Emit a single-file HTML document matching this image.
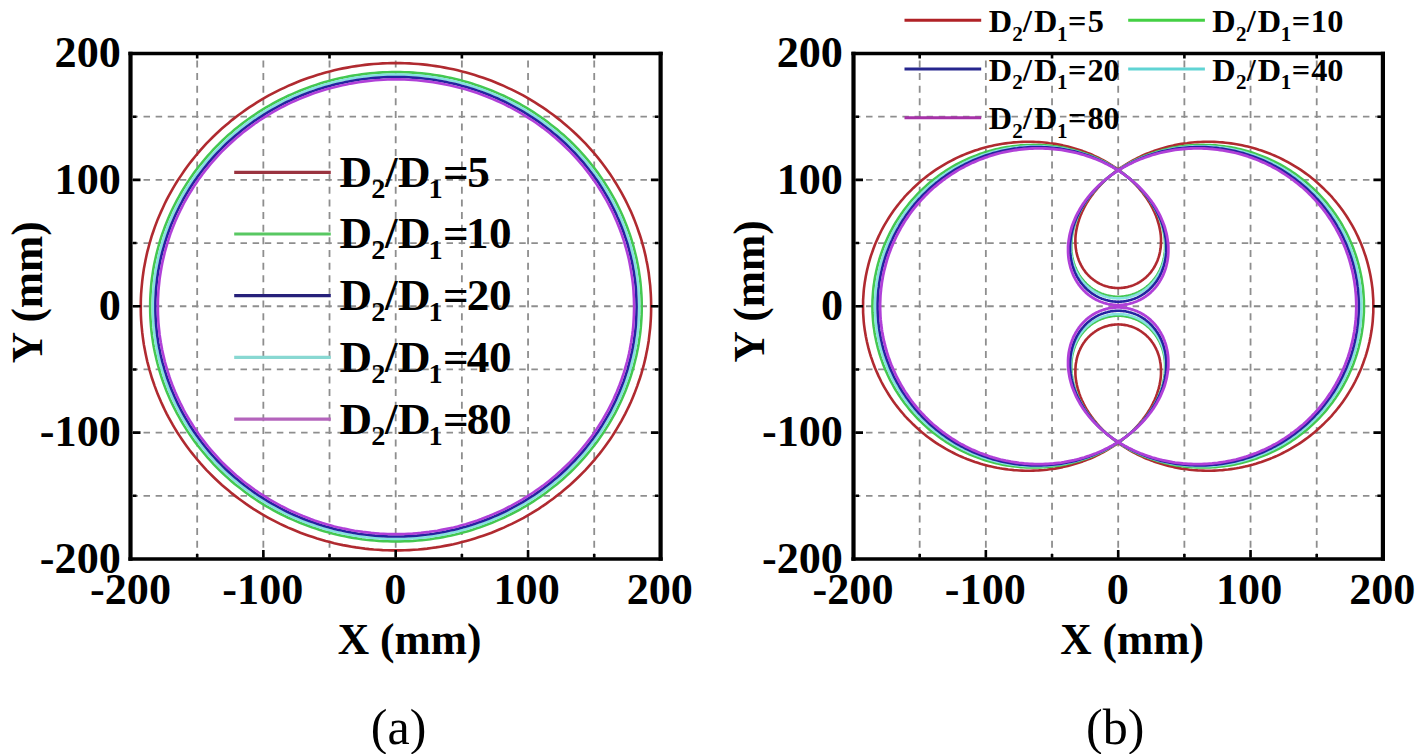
<!DOCTYPE html>
<html><head><meta charset="utf-8"><style>
html,body{margin:0;padding:0;background:#fff;}
body{width:1416px;height:754px;overflow:hidden;font-family:"Liberation Serif",serif;}
svg{display:block;}
</style></head><body>
<svg width="1416" height="754" viewBox="0 0 1416 754">
<rect width="1416" height="754" fill="#fff"/>
<g stroke="#8e8e8e" stroke-width="1.8" stroke-dasharray="7 5.64" stroke-dashoffset="5.74" fill="none"><line x1="197.18" y1="53.5" x2="197.18" y2="559"/><line x1="263.35" y1="53.5" x2="263.35" y2="559"/><line x1="329.52" y1="53.5" x2="329.52" y2="559"/><line x1="395.7" y1="53.5" x2="395.7" y2="559"/><line x1="461.88" y1="53.5" x2="461.88" y2="559"/><line x1="528.05" y1="53.5" x2="528.05" y2="559"/><line x1="594.22" y1="53.5" x2="594.22" y2="559"/></g>
<g stroke="#8e8e8e" stroke-width="1.8" stroke-dasharray="6.5 5.62" stroke-dashoffset="-0.4" fill="none"><line x1="131" y1="495.81" x2="660.4" y2="495.81"/><line x1="131" y1="432.62" x2="660.4" y2="432.62"/><line x1="131" y1="369.44" x2="660.4" y2="369.44"/><line x1="131" y1="306.25" x2="660.4" y2="306.25"/><line x1="131" y1="243.06" x2="660.4" y2="243.06"/><line x1="131" y1="179.88" x2="660.4" y2="179.88"/><line x1="131" y1="116.69" x2="660.4" y2="116.69"/></g>
<path d="M651.1 306.8 651.1 302.5 651.0 298.3 650.8 294.0 650.5 289.8 650.2 285.5 649.7 281.3 649.2 277.1 648.7 272.8 648.0 268.6 647.3 264.4 646.4 260.3 645.6 256.1 644.6 251.9 643.6 247.8 642.4 243.7 641.3 239.6 640.0 235.5 638.6 231.5 637.2 227.4 635.7 223.4 634.2 219.4 632.6 215.5 630.9 211.6 629.1 207.7 627.2 203.8 625.3 199.9 623.3 196.1 621.3 192.4 619.1 188.6 616.9 184.9 614.7 181.3 612.4 177.6 610.0 174.1 607.5 170.5 605.0 167.0 602.4 163.5 599.8 160.1 597.0 156.7 594.3 153.4 591.4 150.1 588.5 146.9 585.6 143.7 582.6 140.6 579.5 137.5 576.4 134.5 573.2 131.5 570.0 128.6 566.7 125.7 563.4 122.9 560.0 120.1 556.5 117.4 553.1 114.8 549.5 112.2 546.0 109.6 542.3 107.2 538.7 104.8 534.9 102.4 531.2 100.1 527.4 97.9 523.6 95.7 519.7 93.7 515.8 91.6 511.8 89.7 507.8 87.8 503.8 85.9 499.8 84.2 495.7 82.5 491.6 80.8 487.4 79.3 483.2 77.8 479.0 76.4 474.8 75.0 470.6 73.8 466.3 72.5 462.0 71.4 457.7 70.3 453.4 69.3 449.0 68.4 444.7 67.6 440.3 66.8 435.9 66.1 431.5 65.5 427.1 64.9 422.6 64.4 418.2 64.0 413.8 63.7 409.3 63.4 404.9 63.3 400.4 63.1 396.0 63.1 391.5 63.1 387.1 63.3 382.6 63.4 378.2 63.7 373.7 64.0 369.3 64.4 364.9 64.9 360.5 65.5 356.0 66.1 351.7 66.8 347.3 67.6 342.9 68.4 338.6 69.3 334.2 70.3 329.9 71.4 325.6 72.5 321.4 73.8 317.1 75.0 312.9 76.4 308.7 77.8 304.5 79.3 300.4 80.8 296.3 82.5 292.2 84.2 288.1 85.9 284.1 87.8 280.1 89.7 276.2 91.6 272.3 93.7 268.4 95.7 264.5 97.9 260.7 100.1 257.0 102.4 253.3 104.8 249.6 107.2 246.0 109.6 242.4 112.2 238.9 114.8 235.4 117.4 231.9 120.1 228.6 122.9 225.2 125.7 221.9 128.6 218.7 131.5 215.5 134.5 212.4 137.5 209.3 140.6 206.3 143.7 203.4 146.9 200.5 150.1 197.7 153.4 194.9 156.7 192.2 160.1 189.5 163.5 186.9 167.0 184.4 170.5 182.0 174.1 179.6 177.6 177.2 181.3 175.0 184.9 172.8 188.6 170.7 192.4 168.6 196.1 166.6 199.9 164.7 203.8 162.9 207.7 161.1 211.6 159.4 215.5 157.7 219.4 156.2 223.4 154.7 227.4 153.3 231.5 151.9 235.5 150.7 239.6 149.5 243.7 148.4 247.8 147.3 251.9 146.4 256.1 145.5 260.3 144.7 264.4 143.9 268.6 143.3 272.8 142.7 277.1 142.2 281.3 141.8 285.5 141.4 289.8 141.1 294.0 140.9 298.3 140.8 302.5 140.8 306.8 140.8 311.0 140.9 315.3 141.1 319.5 141.4 323.8 141.8 328.0 142.2 332.2 142.7 336.4 143.3 340.7 143.9 344.9 144.7 349.1 145.5 353.2 146.4 357.4 147.3 361.6 148.4 365.7 149.5 369.8 150.7 373.9 151.9 378.0 153.3 382.0 154.7 386.1 156.2 390.1 157.7 394.1 159.4 398.0 161.1 402.0 162.9 405.9 164.7 409.7 166.6 413.6 168.6 417.4 170.7 421.1 172.8 424.9 175.0 428.6 177.2 432.2 179.6 435.9 182.0 439.5 184.4 443.0 186.9 446.5 189.5 450.0 192.2 453.4 194.9 456.8 197.7 460.1 200.5 463.4 203.4 466.6 206.3 469.8 209.3 472.9 212.4 476.0 215.5 479.0 218.7 482.0 221.9 485.0 225.2 487.8 228.6 490.6 231.9 493.4 235.4 496.1 238.9 498.8 242.4 501.3 246.0 503.9 249.6 506.3 253.3 508.8 257.0 511.1 260.7 513.4 264.5 515.6 268.4 517.8 272.3 519.9 276.2 521.9 280.1 523.9 284.1 525.7 288.1 527.6 292.2 529.3 296.3 531.0 300.4 532.7 304.5 534.2 308.7 535.7 312.9 537.1 317.1 538.5 321.4 539.8 325.6 541.0 329.9 542.1 334.2 543.2 338.6 544.2 342.9 545.1 347.3 545.9 351.7 546.7 356.0 547.4 360.5 548.0 364.9 548.6 369.3 549.1 373.7 549.5 378.2 549.8 382.6 550.1 387.1 550.3 391.5 550.4 396.0 550.4 400.4 550.4 404.9 550.3 409.3 550.1 413.8 549.8 418.2 549.5 422.6 549.1 427.1 548.6 431.5 548.0 435.9 547.4 440.3 546.7 444.7 545.9 449.0 545.1 453.4 544.2 457.7 543.2 462.0 542.1 466.3 541.0 470.6 539.8 474.8 538.5 479.0 537.1 483.2 535.7 487.4 534.2 491.6 532.7 495.7 531.0 499.8 529.3 503.8 527.6 507.8 525.7 511.8 523.9 515.8 521.9 519.7 519.9 523.6 517.8 527.4 515.6 531.2 513.4 534.9 511.1 538.7 508.8 542.3 506.3 546.0 503.9 549.5 501.3 553.1 498.8 556.5 496.1 560.0 493.4 563.4 490.6 566.7 487.8 570.0 485.0 573.2 482.0 576.4 479.0 579.5 476.0 582.6 472.9 585.6 469.8 588.5 466.6 591.4 463.4 594.3 460.1 597.0 456.8 599.8 453.4 602.4 450.0 605.0 446.5 607.5 443.0 610.0 439.5 612.4 435.9 614.7 432.2 616.9 428.6 619.1 424.9 621.3 421.1 623.3 417.4 625.3 413.6 627.2 409.7 629.1 405.9 630.9 402.0 632.6 398.0 634.2 394.1 635.7 390.1 637.2 386.1 638.6 382.0 640.0 378.0 641.3 373.9 642.4 369.8 643.6 365.7 644.6 361.6 645.6 357.4 646.4 353.2 647.3 349.1 648.0 344.9 648.7 340.7 649.2 336.4 649.7 332.2 650.2 328.0 650.5 323.8 650.8 319.5 651.0 315.3 651.1 311.0 651.1 306.8Z" fill="none" stroke="#b02a30" stroke-width="2.6"/>
<path d="M641.7 306.8 641.7 302.7 641.6 298.6 641.4 294.5 641.1 290.4 640.8 286.3 640.4 282.2 639.9 278.2 639.3 274.1 638.7 270.0 638.0 266.0 637.2 262.0 636.4 258.0 635.4 254.0 634.4 250.0 633.4 246.0 632.2 242.1 631.0 238.1 629.7 234.2 628.3 230.4 626.9 226.5 625.4 222.7 623.8 218.8 622.2 215.1 620.5 211.3 618.7 207.6 616.9 203.9 615.0 200.2 613.0 196.6 610.9 193.0 608.8 189.4 606.6 185.9 604.4 182.4 602.1 178.9 599.7 175.5 597.3 172.1 594.8 168.8 592.2 165.5 589.6 162.3 587.0 159.1 584.2 155.9 581.5 152.8 578.6 149.7 575.7 146.7 572.8 143.7 569.8 140.8 566.7 137.9 563.6 135.1 560.4 132.4 557.2 129.6 553.9 127.0 550.6 124.4 547.3 121.8 543.9 119.3 540.4 116.9 536.9 114.5 533.4 112.2 529.8 109.9 526.2 107.7 522.5 105.6 518.9 103.5 515.1 101.5 511.3 99.5 507.5 97.7 503.7 95.8 499.8 94.1 495.9 92.4 492.0 90.7 488.0 89.2 484.0 87.7 480.0 86.2 476.0 84.9 471.9 83.6 467.8 82.3 463.7 81.2 459.6 80.1 455.4 79.0 451.3 78.1 447.1 77.2 442.9 76.4 438.6 75.6 434.4 75.0 430.2 74.4 425.9 73.8 421.7 73.4 417.4 73.0 413.1 72.6 408.8 72.4 404.5 72.2 400.3 72.1 396.0 72.1 391.7 72.1 387.4 72.2 383.1 72.4 378.8 72.6 374.5 73.0 370.3 73.4 366.0 73.8 361.8 74.4 357.5 75.0 353.3 75.6 349.1 76.4 344.9 77.2 340.7 78.1 336.5 79.0 332.4 80.1 328.2 81.2 324.1 82.3 320.0 83.6 315.9 84.9 311.9 86.2 307.9 87.7 303.9 89.2 299.9 90.7 296.0 92.4 292.1 94.1 288.2 95.8 284.4 97.7 280.6 99.5 276.8 101.5 273.1 103.5 269.4 105.6 265.7 107.7 262.1 109.9 258.5 112.2 255.0 114.5 251.5 116.9 248.1 119.3 244.7 121.8 241.3 124.4 238.0 127.0 234.7 129.6 231.5 132.4 228.3 135.1 225.2 137.9 222.2 140.8 219.2 143.7 216.2 146.7 213.3 149.7 210.5 152.8 207.7 155.9 205.0 159.1 202.3 162.3 199.7 165.5 197.1 168.8 194.6 172.1 192.2 175.5 189.8 178.9 187.5 182.4 185.3 185.9 183.1 189.4 181.0 193.0 179.0 196.6 177.0 200.2 175.1 203.9 173.2 207.6 171.4 211.3 169.7 215.1 168.1 218.8 166.5 222.7 165.0 226.5 163.6 230.4 162.2 234.2 160.9 238.1 159.7 242.1 158.6 246.0 157.5 250.0 156.5 254.0 155.6 258.0 154.7 262.0 153.9 266.0 153.2 270.0 152.6 274.1 152.0 278.2 151.5 282.2 151.1 286.3 150.8 290.4 150.5 294.5 150.3 298.6 150.2 302.7 150.2 306.8 150.2 310.9 150.3 314.9 150.5 319.0 150.8 323.1 151.1 327.2 151.5 331.3 152.0 335.4 152.6 339.4 153.2 343.5 153.9 347.5 154.7 351.5 155.6 355.5 156.5 359.5 157.5 363.5 158.6 367.5 159.7 371.4 160.9 375.4 162.2 379.3 163.6 383.2 165.0 387.0 166.5 390.9 168.1 394.7 169.7 398.5 171.4 402.2 173.2 405.9 175.1 409.6 177.0 413.3 179.0 416.9 181.0 420.5 183.1 424.1 185.3 427.6 187.5 431.1 189.8 434.6 192.2 438.0 194.6 441.4 197.1 444.7 199.7 448.0 202.3 451.2 205.0 454.4 207.7 457.6 210.5 460.7 213.3 463.8 216.2 466.8 219.2 469.8 222.2 472.7 225.2 475.6 228.3 478.4 231.5 481.2 234.7 483.9 238.0 486.5 241.3 489.1 244.7 491.7 248.1 494.2 251.5 496.6 255.0 499.0 258.5 501.3 262.1 503.6 265.7 505.8 269.4 507.9 273.1 510.0 276.8 512.0 280.6 514.0 284.4 515.9 288.2 517.7 292.1 519.4 296.0 521.1 299.9 522.8 303.9 524.3 307.9 525.8 311.9 527.3 315.9 528.6 320.0 529.9 324.1 531.2 328.2 532.3 332.4 533.4 336.5 534.5 340.7 535.4 344.9 536.3 349.1 537.1 353.3 537.9 357.5 538.5 361.8 539.2 366.0 539.7 370.3 540.1 374.5 540.5 378.8 540.9 383.1 541.1 387.4 541.3 391.7 541.4 396.0 541.4 400.3 541.4 404.5 541.3 408.8 541.1 413.1 540.9 417.4 540.5 421.7 540.1 425.9 539.7 430.2 539.2 434.4 538.5 438.6 537.9 442.9 537.1 447.1 536.3 451.3 535.4 455.4 534.5 459.6 533.4 463.7 532.3 467.8 531.2 471.9 529.9 476.0 528.6 480.0 527.3 484.0 525.8 488.0 524.3 492.0 522.8 495.9 521.1 499.8 519.4 503.7 517.7 507.5 515.9 511.3 514.0 515.1 512.0 518.9 510.0 522.5 507.9 526.2 505.8 529.8 503.6 533.4 501.3 536.9 499.0 540.4 496.6 543.9 494.2 547.3 491.7 550.6 489.1 553.9 486.5 557.2 483.9 560.4 481.2 563.6 478.4 566.7 475.6 569.8 472.7 572.8 469.8 575.7 466.8 578.6 463.8 581.5 460.7 584.2 457.6 587.0 454.4 589.6 451.2 592.2 448.0 594.8 444.7 597.3 441.4 599.7 438.0 602.1 434.6 604.4 431.1 606.6 427.6 608.8 424.1 610.9 420.5 613.0 416.9 615.0 413.3 616.9 409.6 618.7 405.9 620.5 402.2 622.2 398.5 623.8 394.7 625.4 390.9 626.9 387.0 628.3 383.2 629.7 379.3 631.0 375.4 632.2 371.4 633.4 367.5 634.4 363.5 635.4 359.5 636.4 355.5 637.2 351.5 638.0 347.5 638.7 343.5 639.3 339.4 639.9 335.4 640.4 331.3 640.8 327.2 641.1 323.1 641.4 319.0 641.6 314.9 641.7 310.9 641.7 306.8Z" fill="none" stroke="#44c850" stroke-width="2.6"/>
<path d="M639.1 306.8 639.1 302.7 638.9 298.7 638.8 294.6 638.5 290.6 638.2 286.5 637.8 282.5 637.3 278.5 636.7 274.4 636.1 270.4 635.4 266.4 634.6 262.5 633.8 258.5 632.9 254.5 631.9 250.6 630.8 246.7 629.7 242.8 628.5 238.9 627.2 235.0 625.8 231.2 624.4 227.4 622.9 223.6 621.4 219.8 619.8 216.0 618.1 212.3 616.3 208.6 614.5 205.0 612.6 201.4 610.6 197.8 608.6 194.2 606.5 190.7 604.4 187.2 602.1 183.7 599.9 180.3 597.5 176.9 595.1 173.6 592.7 170.3 590.1 167.0 587.6 163.8 584.9 160.7 582.2 157.5 579.5 154.5 576.6 151.4 573.8 148.4 570.9 145.5 567.9 142.6 564.9 139.8 561.8 137.0 558.6 134.2 555.5 131.5 552.2 128.9 549.0 126.3 545.6 123.8 542.3 121.4 538.9 118.9 535.4 116.6 531.9 114.3 528.4 112.1 524.8 109.9 521.2 107.8 517.5 105.7 513.8 103.7 510.1 101.8 506.3 99.9 502.5 98.1 498.7 96.4 494.9 94.7 491.0 93.1 487.0 91.5 483.1 90.0 479.1 88.6 475.1 87.3 471.1 86.0 467.0 84.7 463.0 83.6 458.9 82.5 454.8 81.5 450.7 80.6 446.5 79.7 442.4 78.9 438.2 78.1 434.0 77.5 429.8 76.9 425.6 76.3 421.4 75.9 417.2 75.5 412.9 75.2 408.7 74.9 404.4 74.7 400.2 74.6 396.0 74.6 391.7 74.6 387.5 74.7 383.2 74.9 379.0 75.2 374.8 75.5 370.6 75.9 366.3 76.3 362.1 76.9 357.9 77.5 353.7 78.1 349.6 78.9 345.4 79.7 341.3 80.6 337.1 81.5 333.0 82.5 328.9 83.6 324.9 84.7 320.8 86.0 316.8 87.3 312.8 88.6 308.8 90.0 304.9 91.5 301.0 93.1 297.1 94.7 293.2 96.4 289.4 98.1 285.6 99.9 281.8 101.8 278.1 103.7 274.4 105.7 270.7 107.8 267.1 109.9 263.5 112.1 260.0 114.3 256.5 116.6 253.1 118.9 249.6 121.4 246.3 123.8 243.0 126.3 239.7 128.9 236.5 131.5 233.3 134.2 230.2 137.0 227.1 139.8 224.0 142.6 221.1 145.5 218.2 148.4 215.3 151.4 212.5 154.5 209.7 157.5 207.0 160.7 204.4 163.8 201.8 167.0 199.3 170.3 196.8 173.6 194.4 176.9 192.1 180.3 189.8 183.7 187.6 187.2 185.4 190.7 183.3 194.2 181.3 197.8 179.3 201.4 177.4 205.0 175.6 208.6 173.9 212.3 172.2 216.0 170.5 219.8 169.0 223.6 167.5 227.4 166.1 231.2 164.7 235.0 163.5 238.9 162.3 242.8 161.1 246.7 160.1 250.6 159.1 254.5 158.2 258.5 157.3 262.5 156.5 266.4 155.8 270.4 155.2 274.4 154.6 278.5 154.2 282.5 153.8 286.5 153.4 290.6 153.2 294.6 153.0 298.7 152.9 302.7 152.8 306.8 152.9 310.8 153.0 314.9 153.2 318.9 153.4 322.9 153.8 327.0 154.2 331.0 154.6 335.0 155.2 339.1 155.8 343.1 156.5 347.1 157.3 351.1 158.2 355.0 159.1 359.0 160.1 362.9 161.1 366.8 162.3 370.7 163.5 374.6 164.7 378.5 166.1 382.3 167.5 386.2 169.0 390.0 170.5 393.7 172.2 397.5 173.9 401.2 175.6 404.9 177.4 408.5 179.3 412.1 181.3 415.7 183.3 419.3 185.4 422.8 187.6 426.3 189.8 429.8 192.1 433.2 194.4 436.6 196.8 439.9 199.3 443.2 201.8 446.5 204.4 449.7 207.0 452.9 209.7 456.0 212.5 459.1 215.3 462.1 218.2 465.1 221.1 468.0 224.0 470.9 227.1 473.8 230.2 476.5 233.3 479.3 236.5 482.0 239.7 484.6 243.0 487.2 246.3 489.7 249.6 492.2 253.1 494.6 256.5 496.9 260.0 499.2 263.5 501.5 267.1 503.6 270.7 505.7 274.4 507.8 278.1 509.8 281.8 511.7 285.6 513.6 289.4 515.4 293.2 517.2 297.1 518.8 301.0 520.5 304.9 522.0 308.8 523.5 312.8 524.9 316.8 526.3 320.8 527.5 324.9 528.8 328.9 529.9 333.0 531.0 337.1 532.0 341.3 533.0 345.4 533.8 349.6 534.6 353.7 535.4 357.9 536.0 362.1 536.6 366.3 537.2 370.6 537.6 374.8 538.0 379.0 538.3 383.2 538.6 387.5 538.8 391.7 538.9 396.0 538.9 400.2 538.9 404.4 538.8 408.7 538.6 412.9 538.3 417.2 538.0 421.4 537.6 425.6 537.2 429.8 536.6 434.0 536.0 438.2 535.4 442.4 534.6 446.5 533.8 450.7 533.0 454.8 532.0 458.9 531.0 463.0 529.9 467.0 528.8 471.1 527.5 475.1 526.3 479.1 524.9 483.1 523.5 487.0 522.0 491.0 520.5 494.9 518.8 498.7 517.2 502.5 515.4 506.3 513.6 510.1 511.7 513.8 509.8 517.5 507.8 521.2 505.7 524.8 503.6 528.4 501.5 531.9 499.2 535.4 496.9 538.9 494.6 542.3 492.2 545.6 489.7 549.0 487.2 552.2 484.6 555.5 482.0 558.6 479.3 561.8 476.5 564.9 473.8 567.9 470.9 570.9 468.0 573.8 465.1 576.6 462.1 579.5 459.1 582.2 456.0 584.9 452.9 587.6 449.7 590.1 446.5 592.7 443.2 595.1 439.9 597.5 436.6 599.9 433.2 602.1 429.8 604.4 426.3 606.5 422.8 608.6 419.3 610.6 415.7 612.6 412.1 614.5 408.5 616.3 404.9 618.1 401.2 619.8 397.5 621.4 393.7 622.9 390.0 624.4 386.2 625.8 382.3 627.2 378.5 628.5 374.6 629.7 370.7 630.8 366.8 631.9 362.9 632.9 359.0 633.8 355.0 634.6 351.1 635.4 347.1 636.1 343.1 636.7 339.1 637.3 335.0 637.8 331.0 638.2 327.0 638.5 322.9 638.8 318.9 638.9 314.9 639.1 310.8 639.1 306.8Z" fill="none" stroke="#86e0e0" stroke-width="2.6"/>
<path d="M636.6 306.8 636.5 302.7 636.4 298.7 636.2 294.7 636.0 290.7 635.7 286.7 635.3 282.7 634.8 278.8 634.2 274.8 633.6 270.8 632.9 266.9 632.2 262.9 631.3 259.0 630.4 255.1 629.4 251.2 628.4 247.3 627.3 243.4 626.1 239.6 624.8 235.8 623.5 232.0 622.1 228.2 620.6 224.4 619.1 220.7 617.4 217.0 615.8 213.3 614.0 209.7 612.2 206.0 610.4 202.5 608.4 198.9 606.4 195.4 604.3 191.9 602.2 188.4 600.0 185.0 597.8 181.6 595.4 178.3 593.1 175.0 590.6 171.7 588.1 168.5 585.6 165.3 583.0 162.2 580.3 159.1 577.6 156.0 574.8 153.0 571.9 150.1 569.0 147.2 566.1 144.3 563.1 141.5 560.1 138.7 557.0 136.0 553.8 133.4 550.6 130.8 547.4 128.2 544.1 125.7 540.8 123.3 537.4 120.9 534.0 118.6 530.5 116.3 527.0 114.1 523.5 111.9 519.9 109.8 516.3 107.8 512.6 105.8 508.9 103.9 505.2 102.0 501.4 100.3 497.7 98.5 493.8 96.9 490.0 95.3 486.1 93.7 482.2 92.3 478.3 90.9 474.3 89.5 470.3 88.3 466.3 87.0 462.3 85.9 458.2 84.8 454.2 83.8 450.1 82.9 446.0 82.0 441.9 81.2 437.7 80.5 433.6 79.8 429.5 79.2 425.3 78.7 421.1 78.3 416.9 77.9 412.7 77.6 408.6 77.3 404.4 77.1 400.2 77.0 396.0 77.0 391.8 77.0 387.6 77.1 383.4 77.3 379.2 77.6 375.0 77.9 370.8 78.3 366.6 78.7 362.5 79.2 358.3 79.8 354.2 80.5 350.1 81.2 345.9 82.0 341.8 82.9 337.8 83.8 333.7 84.8 329.6 85.9 325.6 87.0 321.6 88.3 317.6 89.5 313.7 90.9 309.7 92.3 305.8 93.7 301.9 95.3 298.1 96.9 294.3 98.5 290.5 100.3 286.7 102.0 283.0 103.9 279.3 105.8 275.7 107.8 272.0 109.8 268.5 111.9 264.9 114.1 261.4 116.3 258.0 118.6 254.5 120.9 251.2 123.3 247.8 125.7 244.5 128.2 241.3 130.8 238.1 133.4 235.0 136.0 231.9 138.7 228.8 141.5 225.8 144.3 222.9 147.2 220.0 150.1 217.2 153.0 214.4 156.0 211.6 159.1 209.0 162.2 206.4 165.3 203.8 168.5 201.3 171.7 198.9 175.0 196.5 178.3 194.2 181.6 191.9 185.0 189.7 188.4 187.6 191.9 185.5 195.4 183.5 198.9 181.6 202.5 179.7 206.0 177.9 209.7 176.2 213.3 174.5 217.0 172.9 220.7 171.3 224.4 169.9 228.2 168.5 232.0 167.1 235.8 165.9 239.6 164.7 243.4 163.6 247.3 162.5 251.2 161.5 255.1 160.6 259.0 159.8 262.9 159.0 266.9 158.3 270.8 157.7 274.8 157.1 278.8 156.7 282.7 156.3 286.7 155.9 290.7 155.7 294.7 155.5 298.7 155.4 302.7 155.4 306.8 155.4 310.8 155.5 314.8 155.7 318.8 155.9 322.8 156.3 326.8 156.7 330.8 157.1 334.8 157.7 338.7 158.3 342.7 159.0 346.7 159.8 350.6 160.6 354.5 161.5 358.4 162.5 362.3 163.6 366.2 164.7 370.1 165.9 373.9 167.1 377.8 168.5 381.6 169.9 385.3 171.3 389.1 172.9 392.8 174.5 396.5 176.2 400.2 177.9 403.9 179.7 407.5 181.6 411.1 183.5 414.6 185.5 418.1 187.6 421.6 189.7 425.1 191.9 428.5 194.2 431.9 196.5 435.2 198.9 438.5 201.3 441.8 203.8 445.0 206.4 448.2 209.0 451.3 211.6 454.4 214.4 457.5 217.2 460.5 220.0 463.4 222.9 466.4 225.8 469.2 228.8 472.0 231.9 474.8 235.0 477.5 238.1 480.1 241.3 482.8 244.5 485.3 247.8 487.8 251.2 490.2 254.5 492.6 258.0 495.0 261.4 497.2 264.9 499.4 268.5 501.6 272.0 503.7 275.7 505.7 279.3 507.7 283.0 509.6 286.7 511.5 290.5 513.3 294.3 515.0 298.1 516.6 301.9 518.2 305.8 519.8 309.7 521.2 313.7 522.6 317.6 524.0 321.6 525.3 325.6 526.5 329.6 527.6 333.7 528.7 337.8 529.7 341.8 530.6 345.9 531.5 350.1 532.3 354.2 533.0 358.3 533.7 362.5 534.3 366.6 534.8 370.8 535.2 375.0 535.6 379.2 535.9 383.4 536.2 387.6 536.4 391.8 536.5 396.0 536.5 400.2 536.5 404.4 536.4 408.6 536.2 412.7 535.9 416.9 535.6 421.1 535.2 425.3 534.8 429.5 534.3 433.6 533.7 437.7 533.0 441.9 532.3 446.0 531.5 450.1 530.6 454.2 529.7 458.2 528.7 462.3 527.6 466.3 526.5 470.3 525.3 474.3 524.0 478.3 522.6 482.2 521.2 486.1 519.8 490.0 518.2 493.8 516.6 497.7 515.0 501.4 513.3 505.2 511.5 508.9 509.6 512.6 507.7 516.3 505.7 519.9 503.7 523.5 501.6 527.0 499.4 530.5 497.2 534.0 495.0 537.4 492.6 540.8 490.2 544.1 487.8 547.4 485.3 550.6 482.8 553.8 480.1 557.0 477.5 560.1 474.8 563.1 472.0 566.1 469.2 569.0 466.4 571.9 463.4 574.8 460.5 577.6 457.5 580.3 454.4 583.0 451.3 585.6 448.2 588.1 445.0 590.6 441.8 593.1 438.5 595.4 435.2 597.8 431.9 600.0 428.5 602.2 425.1 604.3 421.6 606.4 418.1 608.4 414.6 610.4 411.1 612.2 407.5 614.0 403.9 615.8 400.2 617.4 396.5 619.1 392.8 620.6 389.1 622.1 385.3 623.5 381.6 624.8 377.8 626.1 373.9 627.3 370.1 628.4 366.2 629.4 362.3 630.4 358.4 631.3 354.5 632.2 350.6 632.9 346.7 633.6 342.7 634.2 338.7 634.8 334.8 635.3 330.8 635.7 326.8 636.0 322.8 636.2 318.8 636.4 314.8 636.5 310.8 636.6 306.8Z" fill="none" stroke="#2424a0" stroke-width="2.6"/>
<path d="M634.1 306.8 634.0 302.8 633.9 298.8 633.7 294.9 633.5 290.9 633.2 286.9 632.8 283.0 632.3 279.0 631.7 275.1 631.1 271.2 630.4 267.3 629.7 263.4 628.9 259.5 628.0 255.6 627.0 251.8 625.9 247.9 624.8 244.1 623.7 240.3 622.4 236.5 621.1 232.7 619.7 229.0 618.2 225.3 616.7 221.6 615.1 217.9 613.5 214.3 611.8 210.7 610.0 207.1 608.1 203.5 606.2 200.0 604.2 196.5 602.2 193.1 600.1 189.7 597.9 186.3 595.7 182.9 593.4 179.6 591.0 176.4 588.6 173.1 586.1 169.9 583.6 166.8 581.0 163.7 578.4 160.6 575.7 157.6 572.9 154.6 570.1 151.7 567.2 148.8 564.3 146.0 561.4 143.2 558.3 140.5 555.3 137.8 552.2 135.2 549.0 132.6 545.8 130.1 542.6 127.6 539.3 125.2 535.9 122.8 532.5 120.5 529.1 118.3 525.6 116.1 522.1 114.0 518.6 111.9 515.0 109.9 511.4 107.9 507.7 106.0 504.1 104.2 500.3 102.4 496.6 100.7 492.8 99.1 489.0 97.5 485.2 96.0 481.3 94.5 477.4 93.1 473.5 91.8 469.5 90.5 465.6 89.3 461.6 88.2 457.6 87.2 453.6 86.2 449.5 85.2 445.5 84.4 441.4 83.6 437.3 82.9 433.2 82.2 429.1 81.6 425.0 81.1 420.9 80.7 416.7 80.3 412.6 80.0 408.4 79.7 404.3 79.5 400.1 79.4 396.0 79.4 391.8 79.4 387.7 79.5 383.5 79.7 379.4 80.0 375.2 80.3 371.1 80.7 366.9 81.1 362.8 81.6 358.7 82.2 354.6 82.9 350.5 83.6 346.5 84.4 342.4 85.2 338.4 86.2 334.3 87.2 330.3 88.2 326.4 89.3 322.4 90.5 318.4 91.8 314.5 93.1 310.6 94.5 306.8 96.0 302.9 97.5 299.1 99.1 295.3 100.7 291.6 102.4 287.9 104.2 284.2 106.0 280.5 107.9 276.9 109.9 273.3 111.9 269.8 114.0 266.3 116.1 262.8 118.3 259.4 120.5 256.0 122.8 252.7 125.2 249.4 127.6 246.1 130.1 242.9 132.6 239.8 135.2 236.6 137.8 233.6 140.5 230.6 143.2 227.6 146.0 224.7 148.8 221.8 151.7 219.0 154.6 216.3 157.6 213.6 160.6 210.9 163.7 208.3 166.8 205.8 169.9 203.3 173.1 200.9 176.4 198.6 179.6 196.3 182.9 194.0 186.3 191.9 189.7 189.8 193.1 187.7 196.5 185.7 200.0 183.8 203.5 182.0 207.1 180.2 210.7 178.5 214.3 176.8 217.9 175.2 221.6 173.7 225.3 172.2 229.0 170.8 232.7 169.5 236.5 168.3 240.3 167.1 244.1 166.0 247.9 164.9 251.8 164.0 255.6 163.1 259.5 162.2 263.4 161.5 267.3 160.8 271.2 160.2 275.1 159.6 279.0 159.2 283.0 158.8 286.9 158.4 290.9 158.2 294.9 158.0 298.8 157.9 302.8 157.9 306.8 157.9 310.7 158.0 314.7 158.2 318.7 158.4 322.6 158.8 326.6 159.2 330.5 159.6 334.5 160.2 338.4 160.8 342.3 161.5 346.2 162.2 350.1 163.1 354.0 164.0 357.9 164.9 361.8 166.0 365.6 167.1 369.4 168.3 373.2 169.5 377.0 170.8 380.8 172.2 384.5 173.7 388.2 175.2 391.9 176.8 395.6 178.5 399.2 180.2 402.8 182.0 406.4 183.8 410.0 185.7 413.5 187.7 417.0 189.8 420.4 191.9 423.8 194.0 427.2 196.3 430.6 198.6 433.9 200.9 437.2 203.3 440.4 205.8 443.6 208.3 446.7 210.9 449.8 213.6 452.9 216.3 455.9 219.0 458.9 221.8 461.8 224.7 464.7 227.6 467.5 230.6 470.3 233.6 473.0 236.6 475.7 239.8 478.3 242.9 480.9 246.1 483.4 249.4 485.9 252.7 488.3 256.0 490.7 259.4 493.0 262.8 495.2 266.3 497.4 269.8 499.6 273.3 501.6 276.9 503.6 280.5 505.6 284.2 507.5 287.9 509.3 291.6 511.1 295.3 512.8 299.1 514.4 302.9 516.0 306.8 517.5 310.6 519.0 314.5 520.4 318.4 521.7 322.4 523.0 326.4 524.2 330.3 525.3 334.3 526.4 338.4 527.4 342.4 528.3 346.5 529.1 350.5 529.9 354.6 530.7 358.7 531.3 362.8 531.9 366.9 532.4 371.1 532.9 375.2 533.2 379.4 533.6 383.5 533.8 387.7 534.0 391.8 534.1 396.0 534.1 400.1 534.1 404.3 534.0 408.4 533.8 412.6 533.6 416.7 533.2 420.9 532.9 425.0 532.4 429.1 531.9 433.2 531.3 437.3 530.7 441.4 529.9 445.5 529.1 449.5 528.3 453.6 527.4 457.6 526.4 461.6 525.3 465.6 524.2 469.5 523.0 473.5 521.7 477.4 520.4 481.3 519.0 485.2 517.5 489.0 516.0 492.8 514.4 496.6 512.8 500.3 511.1 504.1 509.3 507.7 507.5 511.4 505.6 515.0 503.6 518.6 501.6 522.1 499.6 525.6 497.4 529.1 495.2 532.5 493.0 535.9 490.7 539.3 488.3 542.6 485.9 545.8 483.4 549.0 480.9 552.2 478.3 555.3 475.7 558.3 473.0 561.4 470.3 564.3 467.5 567.2 464.7 570.1 461.8 572.9 458.9 575.7 455.9 578.4 452.9 581.0 449.8 583.6 446.7 586.1 443.6 588.6 440.4 591.0 437.2 593.4 433.9 595.7 430.6 597.9 427.2 600.1 423.8 602.2 420.4 604.2 417.0 606.2 413.5 608.1 410.0 610.0 406.4 611.8 402.8 613.5 399.2 615.1 395.6 616.7 391.9 618.2 388.2 619.7 384.5 621.1 380.8 622.4 377.0 623.7 373.2 624.8 369.4 625.9 365.6 627.0 361.8 628.0 357.9 628.9 354.0 629.7 350.1 630.4 346.2 631.1 342.3 631.7 338.4 632.3 334.5 632.8 330.5 633.2 326.6 633.5 322.6 633.7 318.7 633.9 314.7 634.0 310.7 634.1 306.8Z" fill="none" stroke="#b040d8" stroke-width="2.6"/>
<g stroke="#8e8e8e" stroke-width="1.8" stroke-dasharray="7 5.64" stroke-dashoffset="5.74" fill="none"><line x1="919.68" y1="53.5" x2="919.68" y2="559"/><line x1="985.85" y1="53.5" x2="985.85" y2="559"/><line x1="1052.03" y1="53.5" x2="1052.03" y2="559"/><line x1="1118.2" y1="53.5" x2="1118.2" y2="559"/><line x1="1184.38" y1="53.5" x2="1184.38" y2="559"/><line x1="1250.55" y1="53.5" x2="1250.55" y2="559"/><line x1="1316.72" y1="53.5" x2="1316.72" y2="559"/></g>
<g stroke="#8e8e8e" stroke-width="1.8" stroke-dasharray="6.5 5.62" stroke-dashoffset="-0.4" fill="none"><line x1="853.5" y1="495.81" x2="1382.9" y2="495.81"/><line x1="853.5" y1="432.62" x2="1382.9" y2="432.62"/><line x1="853.5" y1="369.44" x2="1382.9" y2="369.44"/><line x1="853.5" y1="306.25" x2="1382.9" y2="306.25"/><line x1="853.5" y1="243.06" x2="1382.9" y2="243.06"/><line x1="853.5" y1="179.88" x2="1382.9" y2="179.88"/><line x1="853.5" y1="116.69" x2="1382.9" y2="116.69"/></g>
<path d="M1373.4 306.2 1373.3 303.2 1373.3 300.2 1373.1 297.2 1372.9 294.2 1372.7 291.2 1372.4 288.2 1372.0 285.2 1371.6 282.2 1371.1 279.3 1370.6 276.3 1370.0 273.3 1369.4 270.4 1368.7 267.5 1368.0 264.6 1367.2 261.7 1366.4 258.8 1365.5 255.9 1364.5 253.1 1363.5 250.2 1362.5 247.4 1361.4 244.6 1360.2 241.8 1359.0 239.1 1357.8 236.4 1356.5 233.7 1355.2 231.0 1353.8 228.4 1352.3 225.7 1350.8 223.1 1349.3 220.6 1347.7 218.0 1346.1 215.5 1344.4 213.1 1342.7 210.6 1341.0 208.2 1339.2 205.9 1337.3 203.5 1335.4 201.2 1333.5 199.0 1331.6 196.7 1329.6 194.5 1327.5 192.4 1325.4 190.3 1323.3 188.2 1321.2 186.2 1319.0 184.2 1316.8 182.2 1314.6 180.3 1312.3 178.4 1310.0 176.6 1307.6 174.8 1305.3 173.1 1302.9 171.4 1300.4 169.7 1298.0 168.1 1295.5 166.6 1293.0 165.1 1290.5 163.6 1287.9 162.2 1285.4 160.8 1282.8 159.5 1280.2 158.2 1277.5 156.9 1274.9 155.8 1272.2 154.6 1269.5 153.5 1266.8 152.5 1264.1 151.5 1261.4 150.5 1258.7 149.7 1255.9 148.8 1253.2 148.0 1250.4 147.3 1247.7 146.6 1244.9 145.9 1242.1 145.3 1239.3 144.7 1236.5 144.2 1233.7 143.8 1230.9 143.4 1228.1 143.0 1225.4 142.7 1222.6 142.4 1219.8 142.2 1217.0 142.0 1214.2 141.9 1211.4 141.8 1208.7 141.8 1205.9 141.8 1203.1 141.9 1200.4 142.0 1197.7 142.1 1194.9 142.3 1192.2 142.5 1189.5 142.8 1186.9 143.2 1184.2 143.5 1181.5 143.9 1178.9 144.4 1176.3 144.9 1173.7 145.4 1171.1 146.0 1168.6 146.6 1166.0 147.3 1163.5 148.0 1161.0 148.7 1158.6 149.5 1156.1 150.3 1153.7 151.1 1151.3 152.0 1149.0 152.9 1146.6 153.8 1144.3 154.8 1142.1 155.8 1139.8 156.9 1137.6 158.0 1135.4 159.1 1133.3 160.2 1131.1 161.4 1129.0 162.6 1127.0 163.8 1125.0 165.0 1123.0 166.3 1121.0 167.6 1119.1 168.9 1117.3 170.3 1115.4 171.6 1113.6 173.0 1111.9 174.5 1110.1 175.9 1108.4 177.3 1106.8 178.8 1105.2 180.3 1103.6 181.8 1102.1 183.3 1100.6 184.9 1099.2 186.4 1097.8 188.0 1096.4 189.6 1095.1 191.2 1093.8 192.8 1092.6 194.4 1091.4 196.0 1090.2 197.6 1089.1 199.3 1088.1 200.9 1087.0 202.5 1086.1 204.2 1085.1 205.9 1084.2 207.5 1083.4 209.2 1082.6 210.8 1081.8 212.5 1081.1 214.2 1080.4 215.8 1079.8 217.5 1079.2 219.1 1078.7 220.8 1078.2 222.5 1077.7 224.1 1077.3 225.7 1076.9 227.4 1076.6 229.0 1076.3 230.6 1076.0 232.2 1075.8 233.8 1075.6 235.4 1075.5 237.0 1075.4 238.5 1075.4 240.1 1075.4 241.6 1075.4 243.1 1075.5 244.6 1075.6 246.1 1075.7 247.6 1075.9 249.1 1076.2 250.5 1076.4 251.9 1076.7 253.3 1077.0 254.7 1077.4 256.1 1077.8 257.4 1078.3 258.7 1078.7 260.0 1079.2 261.3 1079.8 262.5 1080.3 263.7 1080.9 264.9 1081.6 266.1 1082.2 267.3 1082.9 268.4 1083.6 269.5 1084.4 270.5 1085.1 271.6 1085.9 272.6 1086.8 273.6 1087.6 274.5 1088.5 275.5 1089.4 276.3 1090.3 277.2 1091.2 278.0 1092.2 278.8 1093.2 279.6 1094.2 280.3 1095.2 281.1 1096.3 281.7 1097.3 282.4 1098.4 283.0 1099.5 283.6 1100.6 284.1 1101.7 284.6 1102.8 285.1 1103.9 285.5 1105.1 285.9 1106.3 286.3 1107.4 286.6 1108.6 286.9 1109.8 287.2 1111.0 287.4 1112.2 287.6 1113.4 287.8 1114.6 287.9 1115.8 288.0 1117.0 288.0 1118.2 288.1 1119.4 288.0 1120.6 288.0 1121.8 287.9 1123.0 287.8 1124.2 287.6 1125.4 287.4 1126.6 287.2 1127.8 286.9 1129.0 286.6 1130.1 286.3 1131.3 285.9 1132.5 285.5 1133.6 285.1 1134.7 284.6 1135.8 284.1 1136.9 283.6 1138.0 283.0 1139.1 282.4 1140.1 281.7 1141.2 281.1 1142.2 280.3 1143.2 279.6 1144.2 278.8 1145.2 278.0 1146.1 277.2 1147.0 276.3 1147.9 275.5 1148.8 274.5 1149.6 273.6 1150.5 272.6 1151.3 271.6 1152.0 270.5 1152.8 269.5 1153.5 268.4 1154.2 267.3 1154.8 266.1 1155.5 264.9 1156.1 263.7 1156.6 262.5 1157.2 261.3 1157.7 260.0 1158.1 258.7 1158.6 257.4 1159.0 256.1 1159.4 254.7 1159.7 253.3 1160.0 251.9 1160.2 250.5 1160.5 249.1 1160.7 247.6 1160.8 246.1 1160.9 244.6 1161.0 243.1 1161.0 241.6 1161.0 240.1 1161.0 238.5 1160.9 237.0 1160.8 235.4 1160.6 233.8 1160.4 232.2 1160.1 230.6 1159.8 229.0 1159.5 227.4 1159.1 225.7 1158.7 224.1 1158.2 222.5 1157.7 220.8 1157.2 219.1 1156.6 217.5 1156.0 215.8 1155.3 214.2 1154.6 212.5 1153.8 210.8 1153.0 209.2 1152.2 207.5 1151.3 205.9 1150.3 204.2 1149.4 202.5 1148.3 200.9 1147.3 199.3 1146.2 197.6 1145.0 196.0 1143.8 194.4 1142.6 192.8 1141.3 191.2 1140.0 189.6 1138.6 188.0 1137.2 186.4 1135.8 184.9 1134.3 183.3 1132.8 181.8 1131.2 180.3 1129.6 178.8 1128.0 177.3 1126.3 175.9 1124.5 174.5 1122.8 173.0 1121.0 171.6 1119.1 170.3 1117.3 168.9 1115.4 167.6 1113.4 166.3 1111.4 165.0 1109.4 163.8 1107.4 162.6 1105.3 161.4 1103.1 160.2 1101.0 159.1 1098.8 158.0 1096.6 156.9 1094.3 155.8 1092.1 154.8 1089.8 153.8 1087.4 152.9 1085.1 152.0 1082.7 151.1 1080.3 150.3 1077.8 149.5 1075.4 148.7 1072.9 148.0 1070.4 147.3 1067.8 146.6 1065.3 146.0 1062.7 145.4 1060.1 144.9 1057.5 144.4 1054.9 143.9 1052.2 143.5 1049.5 143.2 1046.9 142.8 1044.2 142.5 1041.5 142.3 1038.7 142.1 1036.0 142.0 1033.3 141.9 1030.5 141.8 1027.7 141.8 1025.0 141.8 1022.2 141.9 1019.4 142.0 1016.6 142.2 1013.8 142.4 1011.0 142.7 1008.3 143.0 1005.5 143.4 1002.7 143.8 999.9 144.2 997.1 144.7 994.3 145.3 991.5 145.9 988.7 146.6 986.0 147.3 983.2 148.0 980.5 148.8 977.7 149.7 975.0 150.5 972.3 151.5 969.6 152.5 966.9 153.5 964.2 154.6 961.5 155.8 958.9 156.9 956.2 158.2 953.6 159.5 951.0 160.8 948.5 162.2 945.9 163.6 943.4 165.1 940.9 166.6 938.4 168.1 936.0 169.7 933.5 171.4 931.1 173.1 928.8 174.8 926.4 176.6 924.1 178.4 921.8 180.3 919.6 182.2 917.4 184.2 915.2 186.2 913.1 188.2 911.0 190.3 908.9 192.4 906.8 194.5 904.8 196.7 902.9 199.0 901.0 201.2 899.1 203.5 897.2 205.9 895.4 208.2 893.7 210.6 892.0 213.1 890.3 215.5 888.7 218.0 887.1 220.6 885.6 223.1 884.1 225.7 882.6 228.4 881.2 231.0 879.9 233.7 878.6 236.4 877.4 239.1 876.2 241.8 875.0 244.6 873.9 247.4 872.9 250.2 871.9 253.1 870.9 255.9 870.0 258.8 869.2 261.7 868.4 264.6 867.7 267.5 867.0 270.4 866.4 273.3 865.8 276.3 865.3 279.3 864.8 282.2 864.4 285.2 864.0 288.2 863.7 291.2 863.5 294.2 863.3 297.2 863.1 300.2 863.1 303.2 863.0 306.2 863.1 309.3 863.1 312.3 863.3 315.3 863.5 318.3 863.7 321.3 864.0 324.3 864.4 327.3 864.8 330.3 865.3 333.2 865.8 336.2 866.4 339.2 867.0 342.1 867.7 345.0 868.4 347.9 869.2 350.8 870.0 353.7 870.9 356.6 871.9 359.4 872.9 362.3 873.9 365.1 875.0 367.9 876.2 370.7 877.4 373.4 878.6 376.1 879.9 378.8 881.2 381.5 882.6 384.1 884.1 386.8 885.6 389.4 887.1 391.9 888.7 394.5 890.3 397.0 892.0 399.4 893.7 401.9 895.4 404.3 897.2 406.6 899.1 409.0 901.0 411.3 902.9 413.5 904.8 415.8 906.8 418.0 908.9 420.1 911.0 422.2 913.1 424.3 915.2 426.3 917.4 428.3 919.6 430.3 921.8 432.2 924.1 434.1 926.4 435.9 928.8 437.7 931.1 439.4 933.5 441.1 936.0 442.8 938.4 444.4 940.9 445.9 943.4 447.4 945.9 448.9 948.5 450.3 951.0 451.7 953.6 453.0 956.2 454.3 958.9 455.6 961.5 456.7 964.2 457.9 966.9 459.0 969.6 460.0 972.3 461.0 975.0 462.0 977.7 462.8 980.5 463.7 983.2 464.5 986.0 465.2 988.7 465.9 991.5 466.6 994.3 467.2 997.1 467.8 999.9 468.3 1002.7 468.7 1005.5 469.1 1008.3 469.5 1011.0 469.8 1013.8 470.1 1016.6 470.3 1019.4 470.5 1022.2 470.6 1025.0 470.7 1027.7 470.7 1030.5 470.7 1033.3 470.6 1036.0 470.5 1038.7 470.4 1041.5 470.2 1044.2 470.0 1046.9 469.7 1049.5 469.3 1052.2 469.0 1054.9 468.6 1057.5 468.1 1060.1 467.6 1062.7 467.1 1065.3 466.5 1067.8 465.9 1070.4 465.2 1072.9 464.5 1075.4 463.8 1077.8 463.0 1080.3 462.2 1082.7 461.4 1085.1 460.5 1087.4 459.6 1089.8 458.7 1092.1 457.7 1094.3 456.7 1096.6 455.6 1098.8 454.5 1101.0 453.4 1103.1 452.3 1105.3 451.1 1107.4 449.9 1109.4 448.7 1111.4 447.5 1113.4 446.2 1115.4 444.9 1117.3 443.6 1119.1 442.2 1121.0 440.9 1122.8 439.5 1124.5 438.0 1126.3 436.6 1128.0 435.2 1129.6 433.7 1131.2 432.2 1132.8 430.7 1134.3 429.2 1135.8 427.6 1137.2 426.1 1138.6 424.5 1140.0 422.9 1141.3 421.3 1142.6 419.7 1143.8 418.1 1145.0 416.5 1146.2 414.9 1147.3 413.2 1148.3 411.6 1149.4 410.0 1150.3 408.3 1151.3 406.6 1152.2 405.0 1153.0 403.3 1153.8 401.7 1154.6 400.0 1155.3 398.3 1156.0 396.7 1156.6 395.0 1157.2 393.4 1157.7 391.7 1158.2 390.0 1158.7 388.4 1159.1 386.8 1159.5 385.1 1159.8 383.5 1160.1 381.9 1160.4 380.3 1160.6 378.7 1160.8 377.1 1160.9 375.5 1161.0 374.0 1161.0 372.4 1161.0 370.9 1161.0 369.4 1160.9 367.9 1160.8 366.4 1160.7 364.9 1160.5 363.4 1160.2 362.0 1160.0 360.6 1159.7 359.2 1159.4 357.8 1159.0 356.4 1158.6 355.1 1158.1 353.8 1157.7 352.5 1157.2 351.2 1156.6 350.0 1156.1 348.8 1155.5 347.6 1154.8 346.4 1154.2 345.2 1153.5 344.1 1152.8 343.0 1152.0 342.0 1151.3 340.9 1150.5 339.9 1149.6 338.9 1148.8 338.0 1147.9 337.0 1147.0 336.2 1146.1 335.3 1145.2 334.5 1144.2 333.7 1143.2 332.9 1142.2 332.2 1141.2 331.4 1140.1 330.8 1139.1 330.1 1138.0 329.5 1136.9 328.9 1135.8 328.4 1134.7 327.9 1133.6 327.4 1132.5 327.0 1131.3 326.6 1130.1 326.2 1129.0 325.9 1127.8 325.6 1126.6 325.3 1125.4 325.1 1124.2 324.9 1123.0 324.7 1121.8 324.6 1120.6 324.5 1119.4 324.5 1118.2 324.4 1117.0 324.5 1115.8 324.5 1114.6 324.6 1113.4 324.7 1112.2 324.9 1111.0 325.1 1109.8 325.3 1108.6 325.6 1107.4 325.9 1106.3 326.2 1105.1 326.6 1103.9 327.0 1102.8 327.4 1101.7 327.9 1100.6 328.4 1099.5 328.9 1098.4 329.5 1097.3 330.1 1096.3 330.8 1095.2 331.4 1094.2 332.2 1093.2 332.9 1092.2 333.7 1091.2 334.5 1090.3 335.3 1089.4 336.2 1088.5 337.0 1087.6 338.0 1086.8 338.9 1085.9 339.9 1085.1 340.9 1084.4 342.0 1083.6 343.0 1082.9 344.1 1082.2 345.2 1081.6 346.4 1080.9 347.6 1080.3 348.8 1079.8 350.0 1079.2 351.2 1078.7 352.5 1078.3 353.8 1077.8 355.1 1077.4 356.4 1077.0 357.8 1076.7 359.2 1076.4 360.6 1076.2 362.0 1075.9 363.4 1075.7 364.9 1075.6 366.4 1075.5 367.9 1075.4 369.4 1075.4 370.9 1075.4 372.4 1075.4 374.0 1075.5 375.5 1075.6 377.1 1075.8 378.7 1076.0 380.3 1076.3 381.9 1076.6 383.5 1076.9 385.1 1077.3 386.8 1077.7 388.4 1078.2 390.0 1078.7 391.7 1079.2 393.4 1079.8 395.0 1080.4 396.7 1081.1 398.3 1081.8 400.0 1082.6 401.7 1083.4 403.3 1084.2 405.0 1085.1 406.6 1086.1 408.3 1087.0 410.0 1088.1 411.6 1089.1 413.2 1090.2 414.9 1091.4 416.5 1092.6 418.1 1093.8 419.7 1095.1 421.3 1096.4 422.9 1097.8 424.5 1099.2 426.1 1100.6 427.6 1102.1 429.2 1103.6 430.7 1105.2 432.2 1106.8 433.7 1108.4 435.2 1110.1 436.6 1111.9 438.0 1113.6 439.5 1115.4 440.9 1117.3 442.2 1119.1 443.6 1121.0 444.9 1123.0 446.2 1125.0 447.5 1127.0 448.7 1129.0 449.9 1131.1 451.1 1133.3 452.3 1135.4 453.4 1137.6 454.5 1139.8 455.6 1142.1 456.7 1144.3 457.7 1146.6 458.7 1149.0 459.6 1151.3 460.5 1153.7 461.4 1156.1 462.2 1158.6 463.0 1161.0 463.8 1163.5 464.5 1166.0 465.2 1168.6 465.9 1171.1 466.5 1173.7 467.1 1176.3 467.6 1178.9 468.1 1181.5 468.6 1184.2 469.0 1186.9 469.3 1189.5 469.7 1192.2 470.0 1194.9 470.2 1197.7 470.4 1200.4 470.5 1203.1 470.6 1205.9 470.7 1208.7 470.7 1211.4 470.7 1214.2 470.6 1217.0 470.5 1219.8 470.3 1222.6 470.1 1225.4 469.8 1228.1 469.5 1230.9 469.1 1233.7 468.7 1236.5 468.3 1239.3 467.8 1242.1 467.2 1244.9 466.6 1247.7 465.9 1250.4 465.2 1253.2 464.5 1255.9 463.7 1258.7 462.8 1261.4 462.0 1264.1 461.0 1266.8 460.0 1269.5 459.0 1272.2 457.9 1274.9 456.7 1277.5 455.6 1280.2 454.3 1282.8 453.0 1285.4 451.7 1287.9 450.3 1290.5 448.9 1293.0 447.4 1295.5 445.9 1298.0 444.4 1300.4 442.8 1302.9 441.1 1305.3 439.4 1307.6 437.7 1310.0 435.9 1312.3 434.1 1314.6 432.2 1316.8 430.3 1319.0 428.3 1321.2 426.3 1323.3 424.3 1325.4 422.2 1327.5 420.1 1329.6 418.0 1331.6 415.8 1333.5 413.5 1335.4 411.3 1337.3 409.0 1339.2 406.6 1341.0 404.3 1342.7 401.9 1344.4 399.4 1346.1 397.0 1347.7 394.5 1349.3 391.9 1350.8 389.4 1352.3 386.8 1353.8 384.1 1355.2 381.5 1356.5 378.8 1357.8 376.1 1359.0 373.4 1360.2 370.7 1361.4 367.9 1362.5 365.1 1363.5 362.3 1364.5 359.4 1365.5 356.6 1366.4 353.7 1367.2 350.8 1368.0 347.9 1368.7 345.0 1369.4 342.1 1370.0 339.2 1370.6 336.2 1371.1 333.2 1371.6 330.3 1372.0 327.3 1372.4 324.3 1372.7 321.3 1372.9 318.3 1373.1 315.3 1373.3 312.3 1373.3 309.3 1373.4 306.3Z" fill="none" stroke="#b02a30" stroke-width="2.6" stroke-linejoin="round"/>
<path d="M1364.0 306.2 1363.9 303.3 1363.9 300.3 1363.7 297.4 1363.5 294.4 1363.3 291.4 1363.0 288.5 1362.7 285.6 1362.2 282.6 1361.8 279.7 1361.3 276.8 1360.7 273.9 1360.1 271.0 1359.4 268.1 1358.7 265.2 1357.9 262.4 1357.1 259.5 1356.2 256.7 1355.3 253.9 1354.3 251.1 1353.3 248.3 1352.2 245.6 1351.1 242.9 1349.9 240.2 1348.7 237.5 1347.4 234.8 1346.1 232.2 1344.7 229.6 1343.3 227.0 1341.9 224.5 1340.4 221.9 1338.8 219.5 1337.2 217.0 1335.6 214.6 1333.9 212.2 1332.2 209.8 1330.4 207.5 1328.6 205.2 1326.8 202.9 1324.9 200.7 1323.0 198.5 1321.0 196.3 1319.0 194.2 1317.0 192.1 1314.9 190.1 1312.8 188.1 1310.6 186.1 1308.5 184.2 1306.3 182.3 1304.0 180.5 1301.7 178.7 1299.4 177.0 1297.1 175.2 1294.8 173.6 1292.4 172.0 1290.0 170.4 1287.5 168.9 1285.1 167.4 1282.6 165.9 1280.1 164.5 1277.5 163.2 1275.0 161.9 1272.4 160.6 1269.8 159.4 1267.2 158.3 1264.6 157.2 1262.0 156.1 1259.3 155.1 1256.6 154.1 1254.0 153.2 1251.3 152.3 1248.6 151.5 1245.9 150.7 1243.1 150.0 1240.4 149.3 1237.7 148.7 1234.9 148.1 1232.2 147.6 1229.4 147.1 1226.7 146.7 1223.9 146.3 1221.1 146.0 1218.4 145.7 1215.6 145.4 1212.9 145.3 1210.1 145.1 1207.4 145.0 1204.6 145.0 1201.9 145.0 1199.2 145.0 1196.5 145.1 1193.7 145.2 1191.0 145.4 1188.4 145.6 1185.7 145.9 1183.0 146.2 1180.4 146.5 1177.7 146.9 1175.1 147.4 1172.5 147.9 1169.9 148.4 1167.4 149.0 1164.8 149.6 1162.3 150.2 1159.8 150.9 1157.3 151.6 1154.8 152.4 1152.4 153.2 1150.0 154.0 1147.6 154.9 1145.2 155.8 1142.9 156.8 1140.6 157.7 1138.3 158.8 1136.1 159.8 1133.8 160.9 1131.6 162.0 1129.5 163.2 1127.4 164.3 1125.3 165.5 1123.2 166.8 1121.2 168.0 1119.2 169.3 1117.2 170.6 1115.3 172.0 1113.4 173.4 1111.6 174.7 1109.8 176.2 1108.0 177.6 1106.2 179.1 1104.5 180.5 1102.9 182.0 1101.3 183.6 1099.7 185.1 1098.1 186.7 1096.6 188.2 1095.2 189.8 1093.8 191.4 1092.4 193.0 1091.1 194.7 1089.8 196.3 1088.5 198.0 1087.3 199.6 1086.2 201.3 1085.0 203.0 1084.0 204.7 1082.9 206.4 1081.9 208.1 1081.0 209.8 1080.1 211.5 1079.2 213.2 1078.4 214.9 1077.7 216.6 1076.9 218.4 1076.3 220.1 1075.6 221.8 1075.0 223.5 1074.5 225.2 1074.0 226.9 1073.5 228.7 1073.1 230.4 1072.7 232.1 1072.4 233.7 1072.1 235.4 1071.9 237.1 1071.6 238.8 1071.5 240.4 1071.4 242.1 1071.3 243.7 1071.3 245.3 1071.3 246.9 1071.3 248.5 1071.4 250.1 1071.5 251.7 1071.7 253.2 1071.9 254.7 1072.1 256.2 1072.4 257.7 1072.7 259.2 1073.1 260.7 1073.5 262.1 1073.9 263.5 1074.4 264.9 1074.9 266.3 1075.4 267.6 1076.0 268.9 1076.6 270.2 1077.2 271.5 1077.9 272.7 1078.6 273.9 1079.3 275.1 1080.1 276.3 1080.9 277.4 1081.7 278.6 1082.6 279.6 1083.4 280.7 1084.3 281.7 1085.3 282.7 1086.2 283.7 1087.2 284.6 1088.2 285.5 1089.2 286.3 1090.2 287.2 1091.3 288.0 1092.4 288.8 1093.5 289.5 1094.6 290.2 1095.7 290.9 1096.9 291.5 1098.1 292.1 1099.3 292.6 1100.5 293.2 1101.7 293.7 1102.9 294.1 1104.1 294.5 1105.4 294.9 1106.6 295.3 1107.9 295.6 1109.2 295.9 1110.4 296.1 1111.7 296.3 1113.0 296.5 1114.3 296.6 1115.6 296.7 1116.9 296.8 1118.2 296.8 1119.5 296.8 1120.8 296.7 1122.1 296.6 1123.4 296.5 1124.7 296.3 1126.0 296.1 1127.2 295.9 1128.5 295.6 1129.8 295.3 1131.0 294.9 1132.3 294.5 1133.5 294.1 1134.7 293.7 1135.9 293.2 1137.1 292.6 1138.3 292.1 1139.5 291.5 1140.7 290.9 1141.8 290.2 1142.9 289.5 1144.0 288.8 1145.1 288.0 1146.2 287.2 1147.2 286.3 1148.2 285.5 1149.2 284.6 1150.2 283.7 1151.1 282.7 1152.1 281.7 1153.0 280.7 1153.8 279.6 1154.7 278.6 1155.5 277.4 1156.3 276.3 1157.1 275.1 1157.8 273.9 1158.5 272.7 1159.2 271.5 1159.8 270.2 1160.4 268.9 1161.0 267.6 1161.5 266.3 1162.0 264.9 1162.5 263.5 1162.9 262.1 1163.3 260.7 1163.7 259.2 1164.0 257.7 1164.3 256.2 1164.5 254.7 1164.7 253.2 1164.9 251.7 1165.0 250.1 1165.1 248.5 1165.1 246.9 1165.1 245.3 1165.1 243.7 1165.0 242.1 1164.9 240.4 1164.8 238.8 1164.5 237.1 1164.3 235.4 1164.0 233.7 1163.7 232.1 1163.3 230.4 1162.9 228.7 1162.4 226.9 1161.9 225.2 1161.4 223.5 1160.8 221.8 1160.1 220.1 1159.5 218.4 1158.7 216.6 1158.0 214.9 1157.2 213.2 1156.3 211.5 1155.4 209.8 1154.5 208.1 1153.5 206.4 1152.4 204.7 1151.4 203.0 1150.2 201.3 1149.1 199.6 1147.9 198.0 1146.6 196.3 1145.3 194.7 1144.0 193.0 1142.6 191.4 1141.2 189.8 1139.8 188.2 1138.3 186.7 1136.7 185.1 1135.1 183.6 1133.5 182.0 1131.9 180.5 1130.2 179.1 1128.4 177.6 1126.6 176.2 1124.8 174.7 1123.0 173.4 1121.1 172.0 1119.2 170.6 1117.2 169.3 1115.2 168.0 1113.2 166.8 1111.1 165.5 1109.0 164.3 1106.9 163.2 1104.8 162.0 1102.6 160.9 1100.3 159.8 1098.1 158.8 1095.8 157.7 1093.5 156.8 1091.2 155.8 1088.8 154.9 1086.4 154.0 1084.0 153.2 1081.6 152.4 1079.1 151.6 1076.6 150.9 1074.1 150.2 1071.6 149.6 1069.0 149.0 1066.5 148.4 1063.9 147.9 1061.3 147.4 1058.7 146.9 1056.0 146.5 1053.4 146.2 1050.7 145.9 1048.0 145.6 1045.4 145.4 1042.7 145.2 1039.9 145.1 1037.2 145.0 1034.5 145.0 1031.8 145.0 1029.0 145.0 1026.3 145.1 1023.5 145.3 1020.8 145.4 1018.0 145.7 1015.3 146.0 1012.5 146.3 1009.7 146.7 1007.0 147.1 1004.2 147.6 1001.5 148.1 998.7 148.7 996.0 149.3 993.3 150.0 990.5 150.7 987.8 151.5 985.1 152.3 982.4 153.2 979.8 154.1 977.1 155.1 974.4 156.1 971.8 157.2 969.2 158.3 966.6 159.4 964.0 160.6 961.4 161.9 958.9 163.2 956.3 164.5 953.8 165.9 951.3 167.4 948.9 168.9 946.4 170.4 944.0 172.0 941.6 173.6 939.3 175.2 937.0 177.0 934.7 178.7 932.4 180.5 930.1 182.3 927.9 184.2 925.8 186.1 923.6 188.1 921.5 190.1 919.4 192.1 917.4 194.2 915.4 196.3 913.4 198.5 911.5 200.7 909.6 202.9 907.8 205.2 906.0 207.5 904.2 209.8 902.5 212.2 900.8 214.6 899.2 217.0 897.6 219.5 896.0 221.9 894.5 224.5 893.1 227.0 891.7 229.6 890.3 232.2 889.0 234.8 887.7 237.5 886.5 240.2 885.3 242.9 884.2 245.6 883.1 248.3 882.1 251.1 881.1 253.9 880.2 256.7 879.3 259.5 878.5 262.4 877.7 265.2 877.0 268.1 876.3 271.0 875.7 273.9 875.1 276.8 874.6 279.7 874.2 282.6 873.7 285.6 873.4 288.5 873.1 291.4 872.9 294.4 872.7 297.4 872.5 300.3 872.5 303.3 872.4 306.2 872.5 309.2 872.5 312.2 872.7 315.1 872.9 318.1 873.1 321.1 873.4 324.0 873.7 326.9 874.2 329.9 874.6 332.8 875.1 335.7 875.7 338.6 876.3 341.5 877.0 344.4 877.7 347.3 878.5 350.1 879.3 353.0 880.2 355.8 881.1 358.6 882.1 361.4 883.1 364.2 884.2 366.9 885.3 369.6 886.5 372.3 887.7 375.0 889.0 377.7 890.3 380.3 891.7 382.9 893.1 385.5 894.5 388.0 896.0 390.6 897.6 393.0 899.2 395.5 900.8 397.9 902.5 400.3 904.2 402.7 906.0 405.0 907.8 407.3 909.6 409.6 911.5 411.8 913.4 414.0 915.4 416.2 917.4 418.3 919.4 420.4 921.5 422.4 923.6 424.4 925.8 426.4 927.9 428.3 930.1 430.2 932.4 432.0 934.7 433.8 937.0 435.5 939.3 437.3 941.6 438.9 944.0 440.5 946.4 442.1 948.9 443.6 951.3 445.1 953.8 446.6 956.3 448.0 958.9 449.3 961.4 450.6 964.0 451.9 966.6 453.1 969.2 454.2 971.8 455.3 974.4 456.4 977.1 457.4 979.8 458.4 982.4 459.3 985.1 460.2 987.8 461.0 990.5 461.8 993.3 462.5 996.0 463.2 998.7 463.8 1001.5 464.4 1004.2 464.9 1007.0 465.4 1009.7 465.8 1012.5 466.2 1015.3 466.5 1018.0 466.8 1020.8 467.1 1023.5 467.2 1026.3 467.4 1029.0 467.5 1031.8 467.5 1034.5 467.5 1037.2 467.5 1039.9 467.4 1042.7 467.3 1045.4 467.1 1048.0 466.9 1050.7 466.6 1053.4 466.3 1056.0 466.0 1058.7 465.6 1061.3 465.1 1063.9 464.6 1066.5 464.1 1069.0 463.5 1071.6 462.9 1074.1 462.3 1076.6 461.6 1079.1 460.9 1081.6 460.1 1084.0 459.3 1086.4 458.5 1088.8 457.6 1091.2 456.7 1093.5 455.7 1095.8 454.8 1098.1 453.7 1100.3 452.7 1102.6 451.6 1104.8 450.5 1106.9 449.3 1109.0 448.2 1111.1 447.0 1113.2 445.7 1115.2 444.5 1117.2 443.2 1119.2 441.9 1121.1 440.5 1123.0 439.1 1124.8 437.8 1126.6 436.3 1128.4 434.9 1130.2 433.4 1131.9 432.0 1133.5 430.5 1135.1 428.9 1136.7 427.4 1138.3 425.8 1139.8 424.3 1141.2 422.7 1142.6 421.1 1144.0 419.5 1145.3 417.8 1146.6 416.2 1147.9 414.5 1149.1 412.9 1150.2 411.2 1151.4 409.5 1152.4 407.8 1153.5 406.1 1154.5 404.4 1155.4 402.7 1156.3 401.0 1157.2 399.3 1158.0 397.6 1158.7 395.9 1159.5 394.1 1160.1 392.4 1160.8 390.7 1161.4 389.0 1161.9 387.3 1162.4 385.6 1162.9 383.8 1163.3 382.1 1163.7 380.4 1164.0 378.8 1164.3 377.1 1164.5 375.4 1164.8 373.7 1164.9 372.1 1165.0 370.4 1165.1 368.8 1165.1 367.2 1165.1 365.6 1165.1 364.0 1165.0 362.4 1164.9 360.8 1164.7 359.3 1164.5 357.8 1164.3 356.3 1164.0 354.8 1163.7 353.3 1163.3 351.8 1162.9 350.4 1162.5 349.0 1162.0 347.6 1161.5 346.2 1161.0 344.9 1160.4 343.6 1159.8 342.3 1159.2 341.0 1158.5 339.8 1157.8 338.6 1157.1 337.4 1156.3 336.2 1155.5 335.1 1154.7 333.9 1153.8 332.9 1153.0 331.8 1152.1 330.8 1151.1 329.8 1150.2 328.8 1149.2 327.9 1148.2 327.0 1147.2 326.2 1146.2 325.3 1145.1 324.5 1144.0 323.7 1142.9 323.0 1141.8 322.3 1140.7 321.6 1139.5 321.0 1138.3 320.4 1137.1 319.9 1135.9 319.3 1134.7 318.8 1133.5 318.4 1132.3 318.0 1131.0 317.6 1129.8 317.2 1128.5 316.9 1127.2 316.6 1126.0 316.4 1124.7 316.2 1123.4 316.0 1122.1 315.9 1120.8 315.8 1119.5 315.7 1118.2 315.7 1116.9 315.7 1115.6 315.8 1114.3 315.9 1113.0 316.0 1111.7 316.2 1110.4 316.4 1109.2 316.6 1107.9 316.9 1106.6 317.2 1105.4 317.6 1104.1 318.0 1102.9 318.4 1101.7 318.8 1100.5 319.3 1099.3 319.9 1098.1 320.4 1096.9 321.0 1095.7 321.6 1094.6 322.3 1093.5 323.0 1092.4 323.7 1091.3 324.5 1090.2 325.3 1089.2 326.2 1088.2 327.0 1087.2 327.9 1086.2 328.8 1085.3 329.8 1084.3 330.8 1083.4 331.8 1082.6 332.9 1081.7 333.9 1080.9 335.1 1080.1 336.2 1079.3 337.4 1078.6 338.6 1077.9 339.8 1077.2 341.0 1076.6 342.3 1076.0 343.6 1075.4 344.9 1074.9 346.2 1074.4 347.6 1073.9 349.0 1073.5 350.4 1073.1 351.8 1072.7 353.3 1072.4 354.8 1072.1 356.3 1071.9 357.8 1071.7 359.3 1071.5 360.8 1071.4 362.4 1071.3 364.0 1071.3 365.6 1071.3 367.2 1071.3 368.8 1071.4 370.4 1071.5 372.1 1071.6 373.7 1071.9 375.4 1072.1 377.1 1072.4 378.8 1072.7 380.4 1073.1 382.1 1073.5 383.8 1074.0 385.6 1074.5 387.3 1075.0 389.0 1075.6 390.7 1076.3 392.4 1076.9 394.1 1077.7 395.9 1078.4 397.6 1079.2 399.3 1080.1 401.0 1081.0 402.7 1081.9 404.4 1082.9 406.1 1084.0 407.8 1085.0 409.5 1086.2 411.2 1087.3 412.9 1088.5 414.5 1089.8 416.2 1091.1 417.8 1092.4 419.5 1093.8 421.1 1095.2 422.7 1096.6 424.3 1098.1 425.8 1099.7 427.4 1101.3 428.9 1102.9 430.5 1104.5 432.0 1106.2 433.4 1108.0 434.9 1109.8 436.3 1111.6 437.8 1113.4 439.1 1115.3 440.5 1117.2 441.9 1119.2 443.2 1121.2 444.5 1123.2 445.7 1125.3 447.0 1127.4 448.2 1129.5 449.3 1131.6 450.5 1133.8 451.6 1136.1 452.7 1138.3 453.7 1140.6 454.8 1142.9 455.7 1145.2 456.7 1147.6 457.6 1150.0 458.5 1152.4 459.3 1154.8 460.1 1157.3 460.9 1159.8 461.6 1162.3 462.3 1164.8 462.9 1167.4 463.5 1169.9 464.1 1172.5 464.6 1175.1 465.1 1177.7 465.6 1180.4 466.0 1183.0 466.3 1185.7 466.6 1188.4 466.9 1191.0 467.1 1193.7 467.3 1196.5 467.4 1199.2 467.5 1201.9 467.5 1204.6 467.5 1207.4 467.5 1210.1 467.4 1212.9 467.2 1215.6 467.1 1218.4 466.8 1221.1 466.5 1223.9 466.2 1226.7 465.8 1229.4 465.4 1232.2 464.9 1234.9 464.4 1237.7 463.8 1240.4 463.2 1243.1 462.5 1245.9 461.8 1248.6 461.0 1251.3 460.2 1254.0 459.3 1256.6 458.4 1259.3 457.4 1262.0 456.4 1264.6 455.3 1267.2 454.2 1269.8 453.1 1272.4 451.9 1275.0 450.6 1277.5 449.3 1280.1 448.0 1282.6 446.6 1285.1 445.1 1287.5 443.6 1290.0 442.1 1292.4 440.5 1294.8 438.9 1297.1 437.3 1299.4 435.5 1301.7 433.8 1304.0 432.0 1306.3 430.2 1308.5 428.3 1310.6 426.4 1312.8 424.4 1314.9 422.4 1317.0 420.4 1319.0 418.3 1321.0 416.2 1323.0 414.0 1324.9 411.8 1326.8 409.6 1328.6 407.3 1330.4 405.0 1332.2 402.7 1333.9 400.3 1335.6 397.9 1337.2 395.5 1338.8 393.0 1340.4 390.6 1341.9 388.0 1343.3 385.5 1344.7 382.9 1346.1 380.3 1347.4 377.7 1348.7 375.0 1349.9 372.3 1351.1 369.6 1352.2 366.9 1353.3 364.2 1354.3 361.4 1355.3 358.6 1356.2 355.8 1357.1 353.0 1357.9 350.1 1358.7 347.3 1359.4 344.4 1360.1 341.5 1360.7 338.6 1361.3 335.7 1361.8 332.8 1362.2 329.9 1362.7 326.9 1363.0 324.0 1363.3 321.1 1363.5 318.1 1363.7 315.1 1363.9 312.2 1363.9 309.2 1364.0 306.3Z" fill="none" stroke="#44c850" stroke-width="2.6" stroke-linejoin="round"/>
<path d="M1361.3 306.2 1361.3 303.4 1361.2 300.5 1361.1 297.6 1360.9 294.8 1360.7 291.9 1360.4 289.0 1360.1 286.2 1359.7 283.3 1359.2 280.5 1358.8 277.7 1358.2 274.8 1357.6 272.0 1357.0 269.2 1356.3 266.4 1355.6 263.7 1354.8 260.9 1353.9 258.2 1353.1 255.4 1352.1 252.7 1351.1 250.0 1350.1 247.4 1349.0 244.7 1347.9 242.1 1346.7 239.5 1345.5 236.9 1344.3 234.3 1343.0 231.7 1341.6 229.2 1340.2 226.7 1338.8 224.3 1337.3 221.8 1335.7 219.4 1334.2 217.0 1332.6 214.7 1330.9 212.3 1329.2 210.1 1327.5 207.8 1325.7 205.6 1323.9 203.4 1322.0 201.2 1320.2 199.1 1318.2 197.0 1316.3 194.9 1314.3 192.9 1312.2 190.9 1310.2 189.0 1308.1 187.1 1305.9 185.2 1303.8 183.4 1301.6 181.6 1299.4 179.8 1297.1 178.1 1294.8 176.4 1292.5 174.8 1290.2 173.2 1287.8 171.7 1285.4 170.2 1283.0 168.7 1280.6 167.3 1278.1 165.9 1275.7 164.6 1273.2 163.3 1270.6 162.1 1268.1 160.9 1265.5 159.8 1263.0 158.7 1260.4 157.6 1257.8 156.6 1255.2 155.6 1252.5 154.7 1249.9 153.9 1247.2 153.0 1244.6 152.3 1241.9 151.5 1239.2 150.8 1236.5 150.2 1233.8 149.6 1231.1 149.1 1228.4 148.6 1225.7 148.1 1223.0 147.7 1220.2 147.4 1217.5 147.1 1214.8 146.8 1212.1 146.6 1209.4 146.4 1206.7 146.3 1203.9 146.3 1201.2 146.2 1198.5 146.2 1195.9 146.3 1193.2 146.4 1190.5 146.6 1187.8 146.8 1185.2 147.0 1182.5 147.3 1179.9 147.6 1177.3 148.0 1174.7 148.4 1172.1 148.8 1169.5 149.3 1167.0 149.9 1164.5 150.5 1161.9 151.1 1159.5 151.7 1157.0 152.4 1154.5 153.2 1152.1 153.9 1149.7 154.8 1147.3 155.6 1145.0 156.5 1142.6 157.4 1140.3 158.4 1138.0 159.4 1135.8 160.4 1133.6 161.5 1131.4 162.5 1129.2 163.7 1127.1 164.8 1125.0 166.0 1122.9 167.2 1120.9 168.5 1118.9 169.8 1116.9 171.1 1115.0 172.4 1113.1 173.7 1111.2 175.1 1109.4 176.5 1107.6 178.0 1105.9 179.4 1104.2 180.9 1102.5 182.4 1100.9 183.9 1099.3 185.4 1097.7 187.0 1096.2 188.6 1094.8 190.2 1093.3 191.8 1092.0 193.4 1090.6 195.0 1089.3 196.7 1088.1 198.3 1086.8 200.0 1085.7 201.7 1084.5 203.4 1083.5 205.1 1082.4 206.8 1081.4 208.5 1080.5 210.3 1079.6 212.0 1078.7 213.7 1077.9 215.5 1077.1 217.2 1076.4 219.0 1075.7 220.7 1075.0 222.5 1074.5 224.2 1073.9 226.0 1073.4 227.7 1072.9 229.4 1072.5 231.2 1072.1 232.9 1071.8 234.6 1071.5 236.3 1071.3 238.0 1071.1 239.7 1070.9 241.4 1070.8 243.1 1070.8 244.8 1070.7 246.4 1070.8 248.1 1070.8 249.7 1070.9 251.3 1071.1 252.9 1071.2 254.5 1071.5 256.0 1071.7 257.6 1072.0 259.1 1072.4 260.6 1072.8 262.1 1073.2 263.6 1073.6 265.0 1074.1 266.4 1074.6 267.8 1075.2 269.2 1075.8 270.6 1076.4 271.9 1077.1 273.2 1077.8 274.5 1078.5 275.7 1079.3 276.9 1080.1 278.1 1080.9 279.3 1081.8 280.4 1082.7 281.5 1083.6 282.6 1084.5 283.6 1085.5 284.6 1086.5 285.6 1087.5 286.5 1088.5 287.4 1089.6 288.3 1090.6 289.2 1091.8 290.0 1092.9 290.7 1094.0 291.5 1095.2 292.2 1096.4 292.8 1097.6 293.5 1098.8 294.1 1100.0 294.6 1101.2 295.1 1102.5 295.6 1103.8 296.1 1105.0 296.5 1106.3 296.8 1107.6 297.2 1108.9 297.5 1110.2 297.7 1111.6 297.9 1112.9 298.1 1114.2 298.2 1115.5 298.3 1116.9 298.4 1118.2 298.4 1119.5 298.4 1120.9 298.3 1122.2 298.2 1123.5 298.1 1124.8 297.9 1126.2 297.7 1127.5 297.5 1128.8 297.2 1130.1 296.8 1131.4 296.5 1132.6 296.1 1133.9 295.6 1135.2 295.1 1136.4 294.6 1137.6 294.1 1138.8 293.5 1140.0 292.8 1141.2 292.2 1142.4 291.5 1143.5 290.7 1144.6 290.0 1145.8 289.2 1146.8 288.3 1147.9 287.4 1148.9 286.5 1149.9 285.6 1150.9 284.6 1151.9 283.6 1152.8 282.6 1153.7 281.5 1154.6 280.4 1155.5 279.3 1156.3 278.1 1157.1 276.9 1157.9 275.7 1158.6 274.5 1159.3 273.2 1160.0 271.9 1160.6 270.6 1161.2 269.2 1161.8 267.8 1162.3 266.4 1162.8 265.0 1163.2 263.6 1163.6 262.1 1164.0 260.6 1164.4 259.1 1164.7 257.6 1164.9 256.0 1165.2 254.5 1165.3 252.9 1165.5 251.3 1165.6 249.7 1165.6 248.1 1165.7 246.4 1165.6 244.8 1165.6 243.1 1165.5 241.4 1165.3 239.7 1165.1 238.0 1164.9 236.3 1164.6 234.6 1164.3 232.9 1163.9 231.2 1163.5 229.4 1163.0 227.7 1162.5 226.0 1161.9 224.2 1161.4 222.5 1160.7 220.7 1160.0 219.0 1159.3 217.2 1158.5 215.5 1157.7 213.7 1156.8 212.0 1155.9 210.3 1155.0 208.5 1154.0 206.8 1152.9 205.1 1151.9 203.4 1150.7 201.7 1149.6 200.0 1148.3 198.3 1147.1 196.7 1145.8 195.0 1144.4 193.4 1143.1 191.8 1141.6 190.2 1140.2 188.6 1138.7 187.0 1137.1 185.4 1135.5 183.9 1133.9 182.4 1132.2 180.9 1130.5 179.4 1128.8 178.0 1127.0 176.5 1125.2 175.1 1123.3 173.7 1121.4 172.4 1119.5 171.1 1117.5 169.8 1115.5 168.5 1113.5 167.2 1111.4 166.0 1109.3 164.8 1107.2 163.7 1105.0 162.5 1102.8 161.5 1100.6 160.4 1098.4 159.4 1096.1 158.4 1093.8 157.4 1091.4 156.5 1089.1 155.6 1086.7 154.8 1084.3 153.9 1081.9 153.2 1079.4 152.4 1076.9 151.7 1074.5 151.1 1071.9 150.5 1069.4 149.9 1066.9 149.3 1064.3 148.8 1061.7 148.4 1059.1 148.0 1056.5 147.6 1053.9 147.3 1051.2 147.0 1048.6 146.8 1045.9 146.6 1043.2 146.4 1040.5 146.3 1037.9 146.2 1035.2 146.2 1032.5 146.3 1029.7 146.3 1027.0 146.4 1024.3 146.6 1021.6 146.8 1018.9 147.1 1016.2 147.4 1013.4 147.7 1010.7 148.1 1008.0 148.6 1005.3 149.1 1002.6 149.6 999.9 150.2 997.2 150.8 994.5 151.5 991.8 152.3 989.2 153.0 986.5 153.9 983.9 154.7 981.2 155.6 978.6 156.6 976.0 157.6 973.4 158.7 970.9 159.8 968.3 160.9 965.8 162.1 963.2 163.3 960.7 164.6 958.3 165.9 955.8 167.3 953.4 168.7 951.0 170.2 948.6 171.7 946.2 173.2 943.9 174.8 941.6 176.4 939.3 178.1 937.0 179.8 934.8 181.6 932.6 183.4 930.5 185.2 928.3 187.1 926.2 189.0 924.2 190.9 922.1 192.9 920.1 194.9 918.2 197.0 916.2 199.1 914.4 201.2 912.5 203.4 910.7 205.6 908.9 207.8 907.2 210.1 905.5 212.3 903.8 214.7 902.2 217.0 900.7 219.4 899.1 221.8 897.6 224.3 896.2 226.7 894.8 229.2 893.4 231.7 892.1 234.3 890.9 236.9 889.7 239.5 888.5 242.1 887.4 244.7 886.3 247.4 885.3 250.0 884.3 252.7 883.3 255.4 882.5 258.2 881.6 260.9 880.8 263.7 880.1 266.4 879.4 269.2 878.8 272.0 878.2 274.8 877.6 277.7 877.2 280.5 876.7 283.3 876.3 286.2 876.0 289.0 875.7 291.9 875.5 294.8 875.3 297.6 875.2 300.5 875.1 303.4 875.1 306.2 875.1 309.1 875.2 312.0 875.3 314.9 875.5 317.7 875.7 320.6 876.0 323.5 876.3 326.3 876.7 329.2 877.2 332.0 877.6 334.8 878.2 337.7 878.8 340.5 879.4 343.3 880.1 346.1 880.8 348.8 881.6 351.6 882.5 354.3 883.3 357.1 884.3 359.8 885.3 362.5 886.3 365.1 887.4 367.8 888.5 370.4 889.7 373.0 890.9 375.6 892.1 378.2 893.4 380.8 894.8 383.3 896.2 385.8 897.6 388.2 899.1 390.7 900.7 393.1 902.2 395.5 903.8 397.8 905.5 400.2 907.2 402.4 908.9 404.7 910.7 406.9 912.5 409.1 914.4 411.3 916.2 413.4 918.2 415.5 920.1 417.6 922.1 419.6 924.2 421.6 926.2 423.5 928.3 425.4 930.5 427.3 932.6 429.1 934.8 430.9 937.0 432.7 939.3 434.4 941.6 436.1 943.9 437.7 946.2 439.3 948.6 440.8 951.0 442.3 953.4 443.8 955.8 445.2 958.3 446.6 960.7 447.9 963.2 449.2 965.8 450.4 968.3 451.6 970.9 452.7 973.4 453.8 976.0 454.9 978.6 455.9 981.2 456.9 983.9 457.8 986.5 458.6 989.2 459.5 991.8 460.2 994.5 461.0 997.2 461.7 999.9 462.3 1002.6 462.9 1005.3 463.4 1008.0 463.9 1010.7 464.4 1013.4 464.8 1016.2 465.1 1018.9 465.4 1021.6 465.7 1024.3 465.9 1027.0 466.1 1029.7 466.2 1032.5 466.2 1035.2 466.3 1037.9 466.3 1040.5 466.2 1043.2 466.1 1045.9 465.9 1048.6 465.7 1051.2 465.5 1053.9 465.2 1056.5 464.9 1059.1 464.5 1061.7 464.1 1064.3 463.7 1066.9 463.2 1069.4 462.6 1071.9 462.0 1074.5 461.4 1076.9 460.8 1079.4 460.1 1081.9 459.3 1084.3 458.6 1086.7 457.7 1089.1 456.9 1091.4 456.0 1093.8 455.1 1096.1 454.1 1098.4 453.1 1100.6 452.1 1102.8 451.0 1105.0 450.0 1107.2 448.8 1109.3 447.7 1111.4 446.5 1113.5 445.3 1115.5 444.0 1117.5 442.7 1119.5 441.4 1121.4 440.1 1123.3 438.8 1125.2 437.4 1127.0 436.0 1128.8 434.5 1130.5 433.1 1132.2 431.6 1133.9 430.1 1135.5 428.6 1137.1 427.1 1138.7 425.5 1140.2 423.9 1141.6 422.3 1143.1 420.7 1144.4 419.1 1145.8 417.5 1147.1 415.8 1148.3 414.2 1149.6 412.5 1150.7 410.8 1151.9 409.1 1152.9 407.4 1154.0 405.7 1155.0 404.0 1155.9 402.2 1156.8 400.5 1157.7 398.8 1158.5 397.0 1159.3 395.3 1160.0 393.5 1160.7 391.8 1161.4 390.0 1161.9 388.3 1162.5 386.5 1163.0 384.8 1163.5 383.1 1163.9 381.3 1164.3 379.6 1164.6 377.9 1164.9 376.2 1165.1 374.5 1165.3 372.8 1165.5 371.1 1165.6 369.4 1165.6 367.7 1165.7 366.1 1165.6 364.4 1165.6 362.8 1165.5 361.2 1165.3 359.6 1165.2 358.0 1164.9 356.5 1164.7 354.9 1164.4 353.4 1164.0 351.9 1163.6 350.4 1163.2 348.9 1162.8 347.5 1162.3 346.1 1161.8 344.7 1161.2 343.3 1160.6 341.9 1160.0 340.6 1159.3 339.3 1158.6 338.0 1157.9 336.8 1157.1 335.6 1156.3 334.4 1155.5 333.2 1154.6 332.1 1153.7 331.0 1152.8 329.9 1151.9 328.9 1150.9 327.9 1149.9 326.9 1148.9 326.0 1147.9 325.1 1146.8 324.2 1145.8 323.3 1144.6 322.5 1143.5 321.8 1142.4 321.0 1141.2 320.3 1140.0 319.7 1138.8 319.0 1137.6 318.4 1136.4 317.9 1135.2 317.4 1133.9 316.9 1132.6 316.4 1131.4 316.0 1130.1 315.7 1128.8 315.3 1127.5 315.0 1126.2 314.8 1124.8 314.6 1123.5 314.4 1122.2 314.3 1120.9 314.2 1119.5 314.1 1118.2 314.1 1116.9 314.1 1115.5 314.2 1114.2 314.3 1112.9 314.4 1111.6 314.6 1110.2 314.8 1108.9 315.0 1107.6 315.3 1106.3 315.7 1105.0 316.0 1103.8 316.4 1102.5 316.9 1101.2 317.4 1100.0 317.9 1098.8 318.4 1097.6 319.0 1096.4 319.7 1095.2 320.3 1094.0 321.0 1092.9 321.8 1091.8 322.5 1090.6 323.3 1089.6 324.2 1088.5 325.1 1087.5 326.0 1086.5 326.9 1085.5 327.9 1084.5 328.9 1083.6 329.9 1082.7 331.0 1081.8 332.1 1080.9 333.2 1080.1 334.4 1079.3 335.6 1078.5 336.8 1077.8 338.0 1077.1 339.3 1076.4 340.6 1075.8 341.9 1075.2 343.3 1074.6 344.7 1074.1 346.1 1073.6 347.5 1073.2 348.9 1072.8 350.4 1072.4 351.9 1072.0 353.4 1071.7 354.9 1071.5 356.5 1071.2 358.0 1071.1 359.6 1070.9 361.2 1070.8 362.8 1070.8 364.4 1070.7 366.1 1070.8 367.7 1070.8 369.4 1070.9 371.1 1071.1 372.8 1071.3 374.5 1071.5 376.2 1071.8 377.9 1072.1 379.6 1072.5 381.3 1072.9 383.1 1073.4 384.8 1073.9 386.5 1074.5 388.3 1075.0 390.0 1075.7 391.8 1076.4 393.5 1077.1 395.3 1077.9 397.0 1078.7 398.8 1079.6 400.5 1080.5 402.2 1081.4 404.0 1082.4 405.7 1083.5 407.4 1084.5 409.1 1085.7 410.8 1086.8 412.5 1088.1 414.2 1089.3 415.8 1090.6 417.5 1092.0 419.1 1093.3 420.7 1094.8 422.3 1096.2 423.9 1097.7 425.5 1099.3 427.1 1100.9 428.6 1102.5 430.1 1104.2 431.6 1105.9 433.1 1107.6 434.5 1109.4 436.0 1111.2 437.4 1113.1 438.8 1115.0 440.1 1116.9 441.4 1118.9 442.7 1120.9 444.0 1122.9 445.3 1125.0 446.5 1127.1 447.7 1129.2 448.8 1131.4 450.0 1133.6 451.0 1135.8 452.1 1138.0 453.1 1140.3 454.1 1142.6 455.1 1145.0 456.0 1147.3 456.9 1149.7 457.7 1152.1 458.6 1154.5 459.3 1157.0 460.1 1159.5 460.8 1161.9 461.4 1164.5 462.0 1167.0 462.6 1169.5 463.2 1172.1 463.7 1174.7 464.1 1177.3 464.5 1179.9 464.9 1182.5 465.2 1185.2 465.5 1187.8 465.7 1190.5 465.9 1193.2 466.1 1195.9 466.2 1198.5 466.3 1201.2 466.3 1203.9 466.2 1206.7 466.2 1209.4 466.1 1212.1 465.9 1214.8 465.7 1217.5 465.4 1220.2 465.1 1223.0 464.8 1225.7 464.4 1228.4 463.9 1231.1 463.4 1233.8 462.9 1236.5 462.3 1239.2 461.7 1241.9 461.0 1244.6 460.2 1247.2 459.5 1249.9 458.6 1252.5 457.8 1255.2 456.9 1257.8 455.9 1260.4 454.9 1263.0 453.8 1265.5 452.7 1268.1 451.6 1270.6 450.4 1273.2 449.2 1275.7 447.9 1278.1 446.6 1280.6 445.2 1283.0 443.8 1285.4 442.3 1287.8 440.8 1290.2 439.3 1292.5 437.7 1294.8 436.1 1297.1 434.4 1299.4 432.7 1301.6 430.9 1303.8 429.1 1305.9 427.3 1308.1 425.4 1310.2 423.5 1312.2 421.6 1314.3 419.6 1316.3 417.6 1318.2 415.5 1320.2 413.4 1322.0 411.3 1323.9 409.1 1325.7 406.9 1327.5 404.7 1329.2 402.4 1330.9 400.2 1332.6 397.8 1334.2 395.5 1335.7 393.1 1337.3 390.7 1338.8 388.2 1340.2 385.8 1341.6 383.3 1343.0 380.8 1344.3 378.2 1345.5 375.6 1346.7 373.0 1347.9 370.4 1349.0 367.8 1350.1 365.1 1351.1 362.5 1352.1 359.8 1353.1 357.1 1353.9 354.3 1354.8 351.6 1355.6 348.8 1356.3 346.1 1357.0 343.3 1357.6 340.5 1358.2 337.7 1358.8 334.8 1359.2 332.0 1359.7 329.2 1360.1 326.3 1360.4 323.5 1360.7 320.6 1360.9 317.7 1361.1 314.9 1361.2 312.0 1361.3 309.1 1361.3 306.3Z" fill="none" stroke="#86e0e0" stroke-width="2.6" stroke-linejoin="round"/>
<path d="M1358.8 306.2 1358.8 303.5 1358.7 300.7 1358.6 298.0 1358.4 295.2 1358.2 292.5 1358.0 289.7 1357.6 287.0 1357.3 284.3 1356.9 281.5 1356.4 278.8 1355.9 276.1 1355.4 273.4 1354.8 270.7 1354.2 268.0 1353.5 265.4 1352.8 262.7 1352.0 260.1 1351.2 257.5 1350.3 254.8 1349.4 252.2 1348.4 249.7 1347.4 247.1 1346.4 244.5 1345.3 242.0 1344.1 239.5 1343.0 237.0 1341.8 234.5 1340.5 232.1 1339.2 229.7 1337.8 227.3 1336.5 224.9 1335.0 222.5 1333.6 220.2 1332.0 217.9 1330.5 215.6 1328.9 213.4 1327.3 211.2 1325.6 209.0 1323.9 206.8 1322.2 204.7 1320.4 202.6 1318.6 200.5 1316.7 198.5 1314.9 196.5 1312.9 194.5 1311.0 192.6 1309.0 190.7 1307.0 188.8 1305.0 187.0 1302.9 185.2 1300.8 183.4 1298.6 181.7 1296.5 180.0 1294.3 178.3 1292.0 176.7 1289.8 175.1 1287.5 173.6 1285.2 172.1 1282.9 170.7 1280.5 169.2 1278.2 167.9 1275.8 166.5 1273.4 165.3 1270.9 164.0 1268.5 162.8 1266.0 161.6 1263.5 160.5 1261.0 159.4 1258.4 158.4 1255.9 157.4 1253.3 156.5 1250.8 155.6 1248.2 154.7 1245.6 153.9 1243.0 153.1 1240.3 152.4 1237.7 151.7 1235.1 151.1 1232.4 150.5 1229.8 150.0 1227.1 149.5 1224.4 149.0 1221.8 148.6 1219.1 148.3 1216.4 147.9 1213.7 147.7 1211.0 147.5 1208.4 147.3 1205.7 147.1 1203.0 147.1 1200.3 147.0 1197.7 147.0 1195.0 147.1 1192.4 147.2 1189.7 147.3 1187.1 147.5 1184.5 147.7 1181.8 148.0 1179.2 148.3 1176.6 148.6 1174.0 149.0 1171.5 149.5 1168.9 150.0 1166.4 150.5 1163.9 151.0 1161.3 151.6 1158.9 152.3 1156.4 153.0 1153.9 153.7 1151.5 154.5 1149.1 155.3 1146.7 156.1 1144.4 157.0 1142.0 157.9 1139.7 158.9 1137.4 159.9 1135.2 160.9 1133.0 162.0 1130.8 163.1 1128.6 164.2 1126.4 165.3 1124.3 166.5 1122.3 167.8 1120.2 169.0 1118.2 170.3 1116.2 171.6 1114.3 173.0 1112.4 174.3 1110.5 175.7 1108.7 177.2 1106.9 178.6 1105.1 180.1 1103.4 181.6 1101.7 183.1 1100.1 184.7 1098.5 186.3 1096.9 187.8 1095.4 189.5 1093.9 191.1 1092.4 192.7 1091.0 194.4 1089.7 196.1 1088.4 197.8 1087.1 199.5 1085.9 201.2 1084.7 202.9 1083.6 204.7 1082.5 206.5 1081.4 208.2 1080.4 210.0 1079.5 211.8 1078.6 213.6 1077.7 215.4 1076.9 217.2 1076.1 219.0 1075.4 220.8 1074.7 222.6 1074.1 224.4 1073.5 226.2 1073.0 228.0 1072.5 229.8 1072.0 231.7 1071.6 233.5 1071.3 235.3 1071.0 237.0 1070.7 238.8 1070.5 240.6 1070.3 242.4 1070.2 244.1 1070.1 245.9 1070.1 247.6 1070.1 249.3 1070.1 251.0 1070.2 252.7 1070.4 254.4 1070.5 256.1 1070.8 257.7 1071.0 259.3 1071.3 260.9 1071.7 262.5 1072.1 264.1 1072.5 265.6 1073.0 267.2 1073.5 268.7 1074.0 270.1 1074.6 271.6 1075.2 273.0 1075.9 274.4 1076.6 275.8 1077.3 277.1 1078.1 278.4 1078.9 279.7 1079.7 280.9 1080.6 282.2 1081.5 283.4 1082.4 284.5 1083.4 285.6 1084.3 286.7 1085.3 287.8 1086.4 288.8 1087.4 289.8 1088.5 290.7 1089.6 291.6 1090.8 292.5 1091.9 293.4 1093.1 294.2 1094.3 294.9 1095.5 295.6 1096.8 296.3 1098.0 297.0 1099.3 297.6 1100.6 298.1 1101.9 298.7 1103.2 299.1 1104.5 299.6 1105.9 300.0 1107.2 300.3 1108.6 300.7 1109.9 300.9 1111.3 301.2 1112.7 301.4 1114.0 301.5 1115.4 301.6 1116.8 301.7 1118.2 301.7 1119.6 301.7 1121.0 301.6 1122.4 301.5 1123.7 301.4 1125.1 301.2 1126.5 300.9 1127.8 300.7 1129.2 300.3 1130.5 300.0 1131.9 299.6 1133.2 299.1 1134.5 298.7 1135.8 298.1 1137.1 297.6 1138.4 297.0 1139.6 296.3 1140.9 295.6 1142.1 294.9 1143.3 294.2 1144.5 293.4 1145.6 292.5 1146.8 291.6 1147.9 290.7 1149.0 289.8 1150.0 288.8 1151.1 287.8 1152.1 286.7 1153.0 285.6 1154.0 284.5 1154.9 283.4 1155.8 282.2 1156.7 280.9 1157.5 279.7 1158.3 278.4 1159.1 277.1 1159.8 275.8 1160.5 274.4 1161.2 273.0 1161.8 271.6 1162.4 270.1 1162.9 268.7 1163.4 267.2 1163.9 265.6 1164.3 264.1 1164.7 262.5 1165.1 260.9 1165.4 259.3 1165.6 257.7 1165.9 256.1 1166.0 254.4 1166.2 252.7 1166.3 251.0 1166.3 249.3 1166.3 247.6 1166.3 245.9 1166.2 244.1 1166.1 242.4 1165.9 240.6 1165.7 238.8 1165.4 237.0 1165.1 235.3 1164.8 233.5 1164.4 231.7 1163.9 229.8 1163.4 228.0 1162.9 226.2 1162.3 224.4 1161.7 222.6 1161.0 220.8 1160.3 219.0 1159.5 217.2 1158.7 215.4 1157.8 213.6 1156.9 211.8 1156.0 210.0 1155.0 208.2 1153.9 206.5 1152.8 204.7 1151.7 202.9 1150.5 201.2 1149.3 199.5 1148.0 197.8 1146.7 196.1 1145.4 194.4 1144.0 192.7 1142.5 191.1 1141.0 189.5 1139.5 187.8 1137.9 186.3 1136.3 184.7 1134.7 183.1 1133.0 181.6 1131.3 180.1 1129.5 178.6 1127.7 177.2 1125.9 175.7 1124.0 174.3 1122.1 173.0 1120.2 171.6 1118.2 170.3 1116.2 169.0 1114.1 167.8 1112.1 166.5 1110.0 165.3 1107.8 164.2 1105.6 163.1 1103.4 162.0 1101.2 160.9 1099.0 159.9 1096.7 158.9 1094.4 157.9 1092.0 157.0 1089.7 156.1 1087.3 155.3 1084.9 154.5 1082.5 153.7 1080.0 153.0 1077.5 152.3 1075.1 151.6 1072.5 151.0 1070.0 150.5 1067.5 150.0 1064.9 149.5 1062.4 149.0 1059.8 148.6 1057.2 148.3 1054.6 148.0 1051.9 147.7 1049.3 147.5 1046.7 147.3 1044.0 147.2 1041.4 147.1 1038.7 147.0 1036.1 147.0 1033.4 147.1 1030.7 147.1 1028.0 147.3 1025.4 147.5 1022.7 147.7 1020.0 147.9 1017.3 148.3 1014.6 148.6 1012.0 149.0 1009.3 149.5 1006.6 150.0 1004.0 150.5 1001.3 151.1 998.7 151.7 996.1 152.4 993.4 153.1 990.8 153.9 988.2 154.7 985.6 155.6 983.1 156.5 980.5 157.4 978.0 158.4 975.4 159.4 972.9 160.5 970.4 161.6 967.9 162.8 965.5 164.0 963.0 165.3 960.6 166.5 958.2 167.9 955.9 169.2 953.5 170.7 951.2 172.1 948.9 173.6 946.6 175.1 944.4 176.7 942.1 178.3 939.9 180.0 937.8 181.7 935.6 183.4 933.5 185.2 931.4 187.0 929.4 188.8 927.4 190.7 925.4 192.6 923.5 194.5 921.5 196.5 919.7 198.5 917.8 200.5 916.0 202.6 914.2 204.7 912.5 206.8 910.8 209.0 909.1 211.2 907.5 213.4 905.9 215.6 904.4 217.9 902.8 220.2 901.4 222.5 899.9 224.9 898.6 227.3 897.2 229.7 895.9 232.1 894.6 234.5 893.4 237.0 892.3 239.5 891.1 242.0 890.0 244.5 889.0 247.1 888.0 249.7 887.0 252.2 886.1 254.8 885.2 257.5 884.4 260.1 883.6 262.7 882.9 265.4 882.2 268.0 881.6 270.7 881.0 273.4 880.5 276.1 880.0 278.8 879.5 281.5 879.1 284.3 878.8 287.0 878.4 289.7 878.2 292.5 878.0 295.2 877.8 298.0 877.7 300.7 877.6 303.5 877.6 306.2 877.6 309.0 877.7 311.8 877.8 314.5 878.0 317.3 878.2 320.0 878.4 322.8 878.8 325.5 879.1 328.2 879.5 331.0 880.0 333.7 880.5 336.4 881.0 339.1 881.6 341.8 882.2 344.5 882.9 347.1 883.6 349.8 884.4 352.4 885.2 355.0 886.1 357.7 887.0 360.3 888.0 362.8 889.0 365.4 890.0 368.0 891.1 370.5 892.3 373.0 893.4 375.5 894.6 378.0 895.9 380.4 897.2 382.8 898.6 385.2 899.9 387.6 901.4 390.0 902.8 392.3 904.4 394.6 905.9 396.9 907.5 399.1 909.1 401.3 910.8 403.5 912.5 405.7 914.2 407.8 916.0 409.9 917.8 412.0 919.7 414.0 921.5 416.0 923.5 418.0 925.4 419.9 927.4 421.8 929.4 423.7 931.4 425.5 933.5 427.3 935.6 429.1 937.8 430.8 939.9 432.5 942.1 434.2 944.4 435.8 946.6 437.4 948.9 438.9 951.2 440.4 953.5 441.8 955.9 443.3 958.2 444.6 960.6 446.0 963.0 447.2 965.5 448.5 967.9 449.7 970.4 450.9 972.9 452.0 975.4 453.1 978.0 454.1 980.5 455.1 983.1 456.0 985.6 456.9 988.2 457.8 990.8 458.6 993.4 459.4 996.1 460.1 998.7 460.8 1001.3 461.4 1004.0 462.0 1006.6 462.5 1009.3 463.0 1012.0 463.5 1014.6 463.9 1017.3 464.2 1020.0 464.6 1022.7 464.8 1025.4 465.0 1028.0 465.2 1030.7 465.4 1033.4 465.4 1036.1 465.5 1038.7 465.5 1041.4 465.4 1044.0 465.3 1046.7 465.2 1049.3 465.0 1051.9 464.8 1054.6 464.5 1057.2 464.2 1059.8 463.9 1062.4 463.5 1064.9 463.0 1067.5 462.5 1070.0 462.0 1072.5 461.5 1075.1 460.9 1077.5 460.2 1080.0 459.5 1082.5 458.8 1084.9 458.0 1087.3 457.2 1089.7 456.4 1092.0 455.5 1094.4 454.6 1096.7 453.6 1099.0 452.6 1101.2 451.6 1103.4 450.5 1105.6 449.4 1107.8 448.3 1110.0 447.2 1112.1 446.0 1114.1 444.7 1116.2 443.5 1118.2 442.2 1120.2 440.9 1122.1 439.5 1124.0 438.2 1125.9 436.8 1127.7 435.3 1129.5 433.9 1131.3 432.4 1133.0 430.9 1134.7 429.4 1136.3 427.8 1137.9 426.2 1139.5 424.7 1141.0 423.0 1142.5 421.4 1144.0 419.8 1145.4 418.1 1146.7 416.4 1148.0 414.7 1149.3 413.0 1150.5 411.3 1151.7 409.6 1152.8 407.8 1153.9 406.0 1155.0 404.3 1156.0 402.5 1156.9 400.7 1157.8 398.9 1158.7 397.1 1159.5 395.3 1160.3 393.5 1161.0 391.7 1161.7 389.9 1162.3 388.1 1162.9 386.3 1163.4 384.5 1163.9 382.7 1164.4 380.8 1164.8 379.0 1165.1 377.2 1165.4 375.5 1165.7 373.7 1165.9 371.9 1166.1 370.1 1166.2 368.4 1166.3 366.6 1166.3 364.9 1166.3 363.2 1166.3 361.5 1166.2 359.8 1166.0 358.1 1165.9 356.4 1165.6 354.8 1165.4 353.2 1165.1 351.6 1164.7 350.0 1164.3 348.4 1163.9 346.9 1163.4 345.3 1162.9 343.8 1162.4 342.4 1161.8 340.9 1161.2 339.5 1160.5 338.1 1159.8 336.7 1159.1 335.4 1158.3 334.1 1157.5 332.8 1156.7 331.6 1155.8 330.3 1154.9 329.1 1154.0 328.0 1153.0 326.9 1152.1 325.8 1151.1 324.7 1150.0 323.7 1149.0 322.7 1147.9 321.8 1146.8 320.9 1145.6 320.0 1144.5 319.1 1143.3 318.3 1142.1 317.6 1140.9 316.9 1139.6 316.2 1138.4 315.5 1137.1 314.9 1135.8 314.4 1134.5 313.8 1133.2 313.4 1131.9 312.9 1130.5 312.5 1129.2 312.2 1127.8 311.8 1126.5 311.6 1125.1 311.3 1123.7 311.1 1122.4 311.0 1121.0 310.9 1119.6 310.8 1118.2 310.8 1116.8 310.8 1115.4 310.9 1114.0 311.0 1112.7 311.1 1111.3 311.3 1109.9 311.6 1108.6 311.8 1107.2 312.2 1105.9 312.5 1104.5 312.9 1103.2 313.4 1101.9 313.8 1100.6 314.4 1099.3 314.9 1098.0 315.5 1096.8 316.2 1095.5 316.9 1094.3 317.6 1093.1 318.3 1091.9 319.1 1090.8 320.0 1089.6 320.9 1088.5 321.8 1087.4 322.7 1086.4 323.7 1085.3 324.7 1084.3 325.8 1083.4 326.9 1082.4 328.0 1081.5 329.1 1080.6 330.3 1079.7 331.6 1078.9 332.8 1078.1 334.1 1077.3 335.4 1076.6 336.7 1075.9 338.1 1075.2 339.5 1074.6 340.9 1074.0 342.4 1073.5 343.8 1073.0 345.3 1072.5 346.9 1072.1 348.4 1071.7 350.0 1071.3 351.6 1071.0 353.2 1070.8 354.8 1070.5 356.4 1070.4 358.1 1070.2 359.8 1070.1 361.5 1070.1 363.2 1070.1 364.9 1070.1 366.6 1070.2 368.4 1070.3 370.1 1070.5 371.9 1070.7 373.7 1071.0 375.5 1071.3 377.2 1071.6 379.0 1072.0 380.8 1072.5 382.7 1073.0 384.5 1073.5 386.3 1074.1 388.1 1074.7 389.9 1075.4 391.7 1076.1 393.5 1076.9 395.3 1077.7 397.1 1078.6 398.9 1079.5 400.7 1080.4 402.5 1081.4 404.3 1082.5 406.0 1083.6 407.8 1084.7 409.6 1085.9 411.3 1087.1 413.0 1088.4 414.7 1089.7 416.4 1091.0 418.1 1092.4 419.8 1093.9 421.4 1095.4 423.0 1096.9 424.7 1098.5 426.2 1100.1 427.8 1101.7 429.4 1103.4 430.9 1105.1 432.4 1106.9 433.9 1108.7 435.3 1110.5 436.8 1112.4 438.2 1114.3 439.5 1116.2 440.9 1118.2 442.2 1120.2 443.5 1122.3 444.7 1124.3 446.0 1126.4 447.2 1128.6 448.3 1130.8 449.4 1133.0 450.5 1135.2 451.6 1137.4 452.6 1139.7 453.6 1142.0 454.6 1144.4 455.5 1146.7 456.4 1149.1 457.2 1151.5 458.0 1153.9 458.8 1156.4 459.5 1158.9 460.2 1161.3 460.9 1163.9 461.5 1166.4 462.0 1168.9 462.5 1171.5 463.0 1174.0 463.5 1176.6 463.9 1179.2 464.2 1181.8 464.5 1184.5 464.8 1187.1 465.0 1189.7 465.2 1192.4 465.3 1195.0 465.4 1197.7 465.5 1200.3 465.5 1203.0 465.4 1205.7 465.4 1208.4 465.2 1211.0 465.0 1213.7 464.8 1216.4 464.6 1219.1 464.2 1221.8 463.9 1224.4 463.5 1227.1 463.0 1229.8 462.5 1232.4 462.0 1235.1 461.4 1237.7 460.8 1240.3 460.1 1243.0 459.4 1245.6 458.6 1248.2 457.8 1250.8 456.9 1253.3 456.0 1255.9 455.1 1258.4 454.1 1261.0 453.1 1263.5 452.0 1266.0 450.9 1268.5 449.7 1270.9 448.5 1273.4 447.2 1275.8 446.0 1278.2 444.6 1280.5 443.3 1282.9 441.8 1285.2 440.4 1287.5 438.9 1289.8 437.4 1292.0 435.8 1294.3 434.2 1296.5 432.5 1298.6 430.8 1300.8 429.1 1302.9 427.3 1305.0 425.5 1307.0 423.7 1309.0 421.8 1311.0 419.9 1312.9 418.0 1314.9 416.0 1316.7 414.0 1318.6 412.0 1320.4 409.9 1322.2 407.8 1323.9 405.7 1325.6 403.5 1327.3 401.3 1328.9 399.1 1330.5 396.9 1332.0 394.6 1333.6 392.3 1335.0 390.0 1336.5 387.6 1337.8 385.2 1339.2 382.8 1340.5 380.4 1341.8 378.0 1343.0 375.5 1344.1 373.0 1345.3 370.5 1346.4 368.0 1347.4 365.4 1348.4 362.8 1349.4 360.3 1350.3 357.7 1351.2 355.0 1352.0 352.4 1352.8 349.8 1353.5 347.1 1354.2 344.5 1354.8 341.8 1355.4 339.1 1355.9 336.4 1356.4 333.7 1356.9 331.0 1357.3 328.2 1357.6 325.5 1358.0 322.8 1358.2 320.0 1358.4 317.3 1358.6 314.5 1358.7 311.8 1358.8 309.0 1358.8 306.3Z" fill="none" stroke="#2424a0" stroke-width="2.6" stroke-linejoin="round"/>
<path d="M1356.3 306.2 1356.3 303.7 1356.2 301.1 1356.1 298.5 1356.0 295.9 1355.8 293.3 1355.5 290.7 1355.3 288.2 1354.9 285.6 1354.6 283.0 1354.2 280.5 1353.7 277.9 1353.3 275.4 1352.7 272.8 1352.2 270.3 1351.5 267.8 1350.9 265.3 1350.2 262.8 1349.5 260.3 1348.7 257.8 1347.9 255.3 1347.0 252.9 1346.1 250.4 1345.2 248.0 1344.2 245.6 1343.2 243.2 1342.1 240.8 1341.0 238.5 1339.9 236.1 1338.7 233.8 1337.5 231.5 1336.2 229.2 1335.0 226.9 1333.6 224.7 1332.3 222.5 1330.9 220.3 1329.4 218.1 1327.9 215.9 1326.4 213.8 1324.9 211.7 1323.3 209.6 1321.7 207.6 1320.0 205.5 1318.3 203.5 1316.6 201.6 1314.8 199.6 1313.0 197.7 1311.2 195.8 1309.3 193.9 1307.4 192.1 1305.5 190.3 1303.6 188.5 1301.6 186.8 1299.5 185.1 1297.5 183.4 1295.4 181.8 1293.3 180.2 1291.2 178.6 1289.0 177.1 1286.8 175.6 1284.6 174.1 1282.4 172.7 1280.1 171.3 1277.8 169.9 1275.5 168.6 1273.2 167.4 1270.8 166.1 1268.5 164.9 1266.1 163.8 1263.6 162.6 1261.2 161.6 1258.7 160.5 1256.3 159.5 1253.8 158.6 1251.3 157.6 1248.7 156.8 1246.2 155.9 1243.6 155.1 1241.1 154.4 1238.5 153.7 1235.9 153.0 1233.3 152.4 1230.7 151.8 1228.1 151.3 1225.4 150.8 1222.8 150.4 1220.2 150.0 1217.5 149.6 1214.8 149.3 1212.2 149.0 1209.5 148.8 1206.9 148.6 1204.2 148.5 1201.5 148.4 1198.9 148.4 1196.2 148.4 1193.6 148.4 1190.9 148.5 1188.3 148.6 1185.6 148.8 1183.0 149.0 1180.4 149.3 1177.7 149.6 1175.1 149.9 1172.5 150.3 1169.9 150.8 1167.4 151.3 1164.8 151.8 1162.3 152.3 1159.7 153.0 1157.2 153.6 1154.7 154.3 1152.3 155.0 1149.8 155.8 1147.4 156.6 1145.0 157.5 1142.6 158.4 1140.2 159.3 1137.9 160.3 1135.5 161.3 1133.2 162.3 1131.0 163.4 1128.7 164.5 1126.5 165.7 1124.4 166.8 1122.2 168.1 1120.1 169.3 1118.0 170.6 1116.0 171.9 1113.9 173.3 1112.0 174.7 1110.0 176.1 1108.1 177.5 1106.2 179.0 1104.4 180.5 1102.6 182.0 1100.9 183.6 1099.2 185.1 1097.5 186.7 1095.8 188.4 1094.3 190.0 1092.7 191.7 1091.2 193.4 1089.7 195.1 1088.3 196.8 1087.0 198.5 1085.6 200.3 1084.4 202.1 1083.1 203.9 1081.9 205.7 1080.8 207.5 1079.7 209.3 1078.7 211.2 1077.7 213.0 1076.7 214.9 1075.8 216.7 1075.0 218.6 1074.2 220.5 1073.4 222.4 1072.7 224.2 1072.0 226.1 1071.4 228.0 1070.9 229.9 1070.4 231.8 1069.9 233.7 1069.5 235.6 1069.2 237.4 1068.9 239.3 1068.6 241.2 1068.4 243.0 1068.2 244.9 1068.1 246.7 1068.1 248.5 1068.1 250.4 1068.1 252.2 1068.2 253.9 1068.3 255.7 1068.5 257.5 1068.7 259.2 1069.0 260.9 1069.3 262.6 1069.7 264.3 1070.1 266.0 1070.5 267.6 1071.0 269.2 1071.6 270.8 1072.1 272.3 1072.8 273.9 1073.4 275.4 1074.1 276.9 1074.9 278.3 1075.6 279.7 1076.5 281.1 1077.3 282.5 1078.2 283.8 1079.1 285.1 1080.1 286.3 1081.1 287.6 1082.1 288.7 1083.2 289.9 1084.3 291.0 1085.4 292.1 1086.5 293.1 1087.7 294.1 1088.9 295.1 1090.1 296.0 1091.4 296.9 1092.7 297.7 1094.0 298.5 1095.3 299.2 1096.6 299.9 1098.0 300.6 1099.3 301.2 1100.7 301.8 1102.1 302.3 1103.5 302.8 1105.0 303.2 1106.4 303.6 1107.9 304.0 1109.3 304.3 1110.8 304.5 1112.3 304.7 1113.7 304.9 1115.2 305.0 1116.7 305.1 1118.2 305.1 1119.7 305.1 1121.2 305.0 1122.7 304.9 1124.1 304.7 1125.6 304.5 1127.1 304.3 1128.5 304.0 1130.0 303.6 1131.4 303.2 1132.9 302.8 1134.3 302.3 1135.7 301.8 1137.1 301.2 1138.4 300.6 1139.8 299.9 1141.1 299.2 1142.4 298.5 1143.7 297.7 1145.0 296.9 1146.3 296.0 1147.5 295.1 1148.7 294.1 1149.9 293.1 1151.0 292.1 1152.1 291.0 1153.2 289.9 1154.3 288.7 1155.3 287.6 1156.3 286.3 1157.3 285.1 1158.2 283.8 1159.1 282.5 1159.9 281.1 1160.8 279.7 1161.5 278.3 1162.3 276.9 1163.0 275.4 1163.6 273.9 1164.3 272.3 1164.8 270.8 1165.4 269.2 1165.9 267.6 1166.3 266.0 1166.7 264.3 1167.1 262.6 1167.4 260.9 1167.7 259.2 1167.9 257.5 1168.1 255.7 1168.2 253.9 1168.3 252.2 1168.3 250.4 1168.3 248.5 1168.3 246.7 1168.2 244.9 1168.0 243.0 1167.8 241.2 1167.5 239.3 1167.2 237.4 1166.9 235.6 1166.5 233.7 1166.0 231.8 1165.5 229.9 1165.0 228.0 1164.4 226.1 1163.7 224.2 1163.0 222.4 1162.2 220.5 1161.4 218.6 1160.6 216.7 1159.7 214.9 1158.7 213.0 1157.7 211.2 1156.7 209.3 1155.6 207.5 1154.5 205.7 1153.3 203.9 1152.0 202.1 1150.8 200.3 1149.4 198.5 1148.1 196.8 1146.7 195.1 1145.2 193.4 1143.7 191.7 1142.1 190.0 1140.6 188.4 1138.9 186.7 1137.2 185.1 1135.5 183.6 1133.8 182.0 1132.0 180.5 1130.2 179.0 1128.3 177.5 1126.4 176.1 1124.4 174.7 1122.5 173.3 1120.4 171.9 1118.4 170.6 1116.3 169.3 1114.2 168.1 1112.0 166.8 1109.9 165.7 1107.7 164.5 1105.4 163.4 1103.2 162.3 1100.9 161.3 1098.5 160.3 1096.2 159.3 1093.8 158.4 1091.4 157.5 1089.0 156.6 1086.6 155.8 1084.1 155.0 1081.7 154.3 1079.2 153.6 1076.7 153.0 1074.1 152.3 1071.6 151.8 1069.0 151.3 1066.5 150.8 1063.9 150.3 1061.3 149.9 1058.7 149.6 1056.0 149.3 1053.4 149.0 1050.8 148.8 1048.1 148.6 1045.5 148.5 1042.8 148.4 1040.2 148.4 1037.5 148.4 1034.9 148.4 1032.2 148.5 1029.5 148.6 1026.9 148.8 1024.2 149.0 1021.6 149.3 1018.9 149.6 1016.2 150.0 1013.6 150.4 1011.0 150.8 1008.3 151.3 1005.7 151.8 1003.1 152.4 1000.5 153.0 997.9 153.7 995.3 154.4 992.8 155.1 990.2 155.9 987.7 156.8 985.1 157.6 982.6 158.6 980.1 159.5 977.7 160.5 975.2 161.6 972.8 162.6 970.3 163.8 967.9 164.9 965.6 166.1 963.2 167.4 960.9 168.6 958.6 169.9 956.3 171.3 954.0 172.7 951.8 174.1 949.6 175.6 947.4 177.1 945.2 178.6 943.1 180.2 941.0 181.8 938.9 183.4 936.9 185.1 934.8 186.8 932.8 188.5 930.9 190.3 929.0 192.1 927.1 193.9 925.2 195.8 923.4 197.7 921.6 199.6 919.8 201.6 918.1 203.5 916.4 205.5 914.7 207.6 913.1 209.6 911.5 211.7 910.0 213.8 908.5 215.9 907.0 218.1 905.5 220.3 904.1 222.5 902.8 224.7 901.4 226.9 900.2 229.2 898.9 231.5 897.7 233.8 896.5 236.1 895.4 238.5 894.3 240.8 893.2 243.2 892.2 245.6 891.2 248.0 890.3 250.4 889.4 252.9 888.5 255.3 887.7 257.8 886.9 260.3 886.2 262.8 885.5 265.3 884.9 267.8 884.2 270.3 883.7 272.8 883.1 275.4 882.7 277.9 882.2 280.5 881.8 283.0 881.5 285.6 881.1 288.2 880.9 290.7 880.6 293.3 880.4 295.9 880.3 298.5 880.2 301.1 880.1 303.7 880.1 306.2 880.1 308.8 880.2 311.4 880.3 314.0 880.4 316.6 880.6 319.2 880.9 321.8 881.1 324.3 881.5 326.9 881.8 329.5 882.2 332.0 882.7 334.6 883.1 337.1 883.7 339.7 884.2 342.2 884.9 344.7 885.5 347.2 886.2 349.7 886.9 352.2 887.7 354.7 888.5 357.2 889.4 359.6 890.3 362.1 891.2 364.5 892.2 366.9 893.2 369.3 894.3 371.7 895.4 374.0 896.5 376.4 897.7 378.7 898.9 381.0 900.2 383.3 901.4 385.6 902.8 387.8 904.1 390.0 905.5 392.2 907.0 394.4 908.5 396.6 910.0 398.7 911.5 400.8 913.1 402.9 914.7 404.9 916.4 407.0 918.1 409.0 919.8 410.9 921.6 412.9 923.4 414.8 925.2 416.7 927.1 418.6 929.0 420.4 930.9 422.2 932.8 424.0 934.8 425.7 936.9 427.4 938.9 429.1 941.0 430.7 943.1 432.3 945.2 433.9 947.4 435.4 949.6 436.9 951.8 438.4 954.0 439.8 956.3 441.2 958.6 442.6 960.9 443.9 963.2 445.1 965.6 446.4 967.9 447.6 970.3 448.7 972.8 449.9 975.2 450.9 977.7 452.0 980.1 453.0 982.6 453.9 985.1 454.9 987.7 455.7 990.2 456.6 992.8 457.4 995.3 458.1 997.9 458.8 1000.5 459.5 1003.1 460.1 1005.7 460.7 1008.3 461.2 1011.0 461.7 1013.6 462.1 1016.2 462.5 1018.9 462.9 1021.6 463.2 1024.2 463.5 1026.9 463.7 1029.5 463.9 1032.2 464.0 1034.9 464.1 1037.5 464.1 1040.2 464.1 1042.8 464.1 1045.5 464.0 1048.1 463.9 1050.8 463.7 1053.4 463.5 1056.0 463.2 1058.7 462.9 1061.3 462.6 1063.9 462.2 1066.5 461.7 1069.0 461.2 1071.6 460.7 1074.1 460.2 1076.7 459.5 1079.2 458.9 1081.7 458.2 1084.1 457.5 1086.6 456.7 1089.0 455.9 1091.4 455.0 1093.8 454.1 1096.2 453.2 1098.5 452.2 1100.9 451.2 1103.2 450.2 1105.4 449.1 1107.7 448.0 1109.9 446.8 1112.0 445.7 1114.2 444.4 1116.3 443.2 1118.4 441.9 1120.4 440.6 1122.5 439.2 1124.4 437.8 1126.4 436.4 1128.3 435.0 1130.2 433.5 1132.0 432.0 1133.8 430.5 1135.5 428.9 1137.2 427.4 1138.9 425.8 1140.6 424.1 1142.1 422.5 1143.7 420.8 1145.2 419.1 1146.7 417.4 1148.1 415.7 1149.4 414.0 1150.8 412.2 1152.0 410.4 1153.3 408.6 1154.5 406.8 1155.6 405.0 1156.7 403.2 1157.7 401.3 1158.7 399.5 1159.7 397.6 1160.6 395.8 1161.4 393.9 1162.2 392.0 1163.0 390.1 1163.7 388.3 1164.4 386.4 1165.0 384.5 1165.5 382.6 1166.0 380.7 1166.5 378.8 1166.9 376.9 1167.2 375.1 1167.5 373.2 1167.8 371.3 1168.0 369.5 1168.2 367.6 1168.3 365.8 1168.3 364.0 1168.3 362.1 1168.3 360.3 1168.2 358.6 1168.1 356.8 1167.9 355.0 1167.7 353.3 1167.4 351.6 1167.1 349.9 1166.7 348.2 1166.3 346.5 1165.9 344.9 1165.4 343.3 1164.8 341.7 1164.3 340.2 1163.6 338.6 1163.0 337.1 1162.3 335.6 1161.5 334.2 1160.8 332.8 1159.9 331.4 1159.1 330.0 1158.2 328.7 1157.3 327.4 1156.3 326.2 1155.3 324.9 1154.3 323.8 1153.2 322.6 1152.1 321.5 1151.0 320.4 1149.9 319.4 1148.7 318.4 1147.5 317.4 1146.3 316.5 1145.0 315.6 1143.7 314.8 1142.4 314.0 1141.1 313.3 1139.8 312.6 1138.4 311.9 1137.1 311.3 1135.7 310.7 1134.3 310.2 1132.9 309.7 1131.4 309.3 1130.0 308.9 1128.5 308.5 1127.1 308.2 1125.6 308.0 1124.1 307.8 1122.7 307.6 1121.2 307.5 1119.7 307.4 1118.2 307.4 1116.7 307.4 1115.2 307.5 1113.7 307.6 1112.3 307.8 1110.8 308.0 1109.3 308.2 1107.9 308.5 1106.4 308.9 1105.0 309.3 1103.5 309.7 1102.1 310.2 1100.7 310.7 1099.3 311.3 1098.0 311.9 1096.6 312.6 1095.3 313.3 1094.0 314.0 1092.7 314.8 1091.4 315.6 1090.1 316.5 1088.9 317.4 1087.7 318.4 1086.5 319.4 1085.4 320.4 1084.3 321.5 1083.2 322.6 1082.1 323.8 1081.1 324.9 1080.1 326.2 1079.1 327.4 1078.2 328.7 1077.3 330.0 1076.5 331.4 1075.6 332.8 1074.9 334.2 1074.1 335.6 1073.4 337.1 1072.8 338.6 1072.1 340.2 1071.6 341.7 1071.0 343.3 1070.5 344.9 1070.1 346.5 1069.7 348.2 1069.3 349.9 1069.0 351.6 1068.7 353.3 1068.5 355.0 1068.3 356.8 1068.2 358.6 1068.1 360.3 1068.1 362.1 1068.1 364.0 1068.1 365.8 1068.2 367.6 1068.4 369.5 1068.6 371.3 1068.9 373.2 1069.2 375.1 1069.5 376.9 1069.9 378.8 1070.4 380.7 1070.9 382.6 1071.4 384.5 1072.0 386.4 1072.7 388.3 1073.4 390.1 1074.2 392.0 1075.0 393.9 1075.8 395.8 1076.7 397.6 1077.7 399.5 1078.7 401.3 1079.7 403.2 1080.8 405.0 1081.9 406.8 1083.1 408.6 1084.4 410.4 1085.6 412.2 1087.0 414.0 1088.3 415.7 1089.7 417.4 1091.2 419.1 1092.7 420.8 1094.3 422.5 1095.8 424.1 1097.5 425.8 1099.2 427.4 1100.9 428.9 1102.6 430.5 1104.4 432.0 1106.2 433.5 1108.1 435.0 1110.0 436.4 1112.0 437.8 1113.9 439.2 1116.0 440.6 1118.0 441.9 1120.1 443.2 1122.2 444.4 1124.4 445.7 1126.5 446.8 1128.7 448.0 1131.0 449.1 1133.2 450.2 1135.5 451.2 1137.9 452.2 1140.2 453.2 1142.6 454.1 1145.0 455.0 1147.4 455.9 1149.8 456.7 1152.3 457.5 1154.7 458.2 1157.2 458.9 1159.7 459.5 1162.3 460.2 1164.8 460.7 1167.4 461.2 1169.9 461.7 1172.5 462.2 1175.1 462.6 1177.7 462.9 1180.4 463.2 1183.0 463.5 1185.6 463.7 1188.3 463.9 1190.9 464.0 1193.6 464.1 1196.2 464.1 1198.9 464.1 1201.5 464.1 1204.2 464.0 1206.9 463.9 1209.5 463.7 1212.2 463.5 1214.8 463.2 1217.5 462.9 1220.2 462.5 1222.8 462.1 1225.4 461.7 1228.1 461.2 1230.7 460.7 1233.3 460.1 1235.9 459.5 1238.5 458.8 1241.1 458.1 1243.6 457.4 1246.2 456.6 1248.7 455.7 1251.3 454.9 1253.8 453.9 1256.3 453.0 1258.7 452.0 1261.2 450.9 1263.6 449.9 1266.1 448.7 1268.5 447.6 1270.8 446.4 1273.2 445.1 1275.5 443.9 1277.8 442.6 1280.1 441.2 1282.4 439.8 1284.6 438.4 1286.8 436.9 1289.0 435.4 1291.2 433.9 1293.3 432.3 1295.4 430.7 1297.5 429.1 1299.5 427.4 1301.6 425.7 1303.6 424.0 1305.5 422.2 1307.4 420.4 1309.3 418.6 1311.2 416.7 1313.0 414.8 1314.8 412.9 1316.6 410.9 1318.3 409.0 1320.0 407.0 1321.7 404.9 1323.3 402.9 1324.9 400.8 1326.4 398.7 1327.9 396.6 1329.4 394.4 1330.9 392.2 1332.3 390.0 1333.6 387.8 1335.0 385.6 1336.2 383.3 1337.5 381.0 1338.7 378.7 1339.9 376.4 1341.0 374.0 1342.1 371.7 1343.2 369.3 1344.2 366.9 1345.2 364.5 1346.1 362.1 1347.0 359.6 1347.9 357.2 1348.7 354.7 1349.5 352.2 1350.2 349.7 1350.9 347.2 1351.5 344.7 1352.2 342.2 1352.7 339.7 1353.3 337.1 1353.7 334.6 1354.2 332.0 1354.6 329.5 1354.9 326.9 1355.3 324.3 1355.5 321.8 1355.8 319.2 1356.0 316.6 1356.1 314.0 1356.2 311.4 1356.3 308.8 1356.3 306.3Z" fill="none" stroke="#b040d8" stroke-width="2.8" stroke-linejoin="round"/>
<path d="M197.18 557.5v-3.5M197.18 55v3.5M133 495.81h3.5M658.4 495.81h-3.5M263.35 557.5v-7.5M133 432.62h7.5M658.4 432.62h-7.5M329.52 557.5v-3.5M329.52 55v3.5M133 369.44h3.5M658.4 369.44h-3.5M395.7 557.5v-7.5M133 306.25h7.5M658.4 306.25h-7.5M461.88 557.5v-3.5M461.88 55v3.5M133 243.06h3.5M658.4 243.06h-3.5M528.05 557.5v-7.5M133 179.88h7.5M658.4 179.88h-7.5M594.22 557.5v-3.5M594.22 55v3.5M133 116.69h3.5M658.4 116.69h-3.5" stroke="#000" stroke-width="2.6" fill="none"/>
<path d="M130.5 51.75V560.75 M660.6 51.75V560.75" stroke="#000" stroke-width="4.2" fill="none"/>
<path d="M128.4 53.5H662.7 M128.4 559H662.7" stroke="#000" stroke-width="3.5" fill="none"/>
<path d="M919.68 557.5v-3.5M919.68 55v3.5M855.5 495.81h3.5M1380.9 495.81h-3.5M985.85 557.5v-7.5M855.5 432.62h7.5M1380.9 432.62h-7.5M1052.03 557.5v-3.5M1052.03 55v3.5M855.5 369.44h3.5M1380.9 369.44h-3.5M1118.2 557.5v-7.5M855.5 306.25h7.5M1380.9 306.25h-7.5M1184.38 557.5v-3.5M1184.38 55v3.5M855.5 243.06h3.5M1380.9 243.06h-3.5M1250.55 557.5v-7.5M855.5 179.88h7.5M1380.9 179.88h-7.5M1316.72 557.5v-3.5M1316.72 55v3.5M855.5 116.69h3.5M1380.9 116.69h-3.5" stroke="#000" stroke-width="2.6" fill="none"/>
<path d="M853.5 51.75V560.75 M1382.9 51.75V560.75" stroke="#000" stroke-width="4.2" fill="none"/>
<path d="M851.4 53.5H1385 M851.4 559H1385" stroke="#000" stroke-width="3.5" fill="none"/>
<g font-family="Liberation Serif" font-weight="bold" font-size="44.2" fill="#000"><text x="39.86" y="572.68">-200</text><text x="39.86" y="446.3">-100</text><text x="98.78" y="319.93">0</text><text x="54.58" y="193.55">100</text><text x="54.58" y="67.18">200</text><text x="90.01" y="603.76">-200</text><text x="222.36" y="603.76">-100</text><text x="384.15" y="603.76">0</text><text x="493.47" y="603.76">100</text><text x="626.66" y="603.76">200</text></g>
<g font-family="Liberation Serif" font-weight="bold" font-size="44.2" fill="#000"><text x="761.96" y="572.68">-200</text><text x="761.96" y="446.3">-100</text><text x="820.88" y="319.93">0</text><text x="776.68" y="193.55">100</text><text x="776.68" y="67.18">200</text><text x="812.51" y="603.76">-200</text><text x="944.86" y="603.76">-100</text><text x="1106.65" y="603.76">0</text><text x="1215.97" y="603.76">100</text><text x="1349.16" y="603.76">200</text></g>
<line x1="234.2" y1="172.3" x2="330.8" y2="172.3" stroke="#9a3440" stroke-width="3.2"/>
<line x1="234.2" y1="234" x2="330.8" y2="234" stroke="#58c862" stroke-width="3.2"/>
<line x1="234.2" y1="295.7" x2="330.8" y2="295.7" stroke="#26207a" stroke-width="3.2"/>
<line x1="234.2" y1="357.4" x2="330.8" y2="357.4" stroke="#88d8d2" stroke-width="3.2"/>
<line x1="234.2" y1="419.1" x2="330.8" y2="419.1" stroke="#b464bc" stroke-width="3.2"/>
<g font-family="Liberation Serif" font-weight="bold" fill="#000"><text transform="translate(339.61 186.7) scale(1.03 1)" font-size="43.8">D</text><text transform="translate(371.33 197.7) scale(1.03 1)" font-size="27.5">2</text><text transform="translate(385.03 186.7) scale(1.03 1)" font-size="43.8">/</text><text transform="translate(397.91 186.7) scale(1.03 1)" font-size="43.8">D</text><text transform="translate(428.52 197.7) scale(1.03 1)" font-size="27.5">1</text><text transform="translate(443.06 186.7) scale(1.03 1)" font-size="43.8">=</text><text transform="translate(467.25 186.7) scale(1.03 1)" font-size="43.8">5</text><text transform="translate(339.61 248.4) scale(1.03 1)" font-size="43.8">D</text><text transform="translate(371.33 259.4) scale(1.03 1)" font-size="27.5">2</text><text transform="translate(385.03 248.4) scale(1.03 1)" font-size="43.8">/</text><text transform="translate(397.91 248.4) scale(1.03 1)" font-size="43.8">D</text><text transform="translate(428.52 259.4) scale(1.03 1)" font-size="27.5">1</text><text transform="translate(443.06 248.4) scale(1.03 1)" font-size="43.8">=</text><text transform="translate(466.09 248.4) scale(1.03 1)" font-size="43.8">1</text><text transform="translate(489.02 248.4) scale(1.03 1)" font-size="43.8">0</text><text transform="translate(339.61 310.1) scale(1.03 1)" font-size="43.8">D</text><text transform="translate(371.33 321.1) scale(1.03 1)" font-size="27.5">2</text><text transform="translate(385.03 310.1) scale(1.03 1)" font-size="43.8">/</text><text transform="translate(397.91 310.1) scale(1.03 1)" font-size="43.8">D</text><text transform="translate(428.52 321.1) scale(1.03 1)" font-size="27.5">1</text><text transform="translate(443.06 310.1) scale(1.03 1)" font-size="43.8">=</text><text transform="translate(466.74 310.1) scale(1.03 1)" font-size="43.8">2</text><text transform="translate(489.02 310.1) scale(1.03 1)" font-size="43.8">0</text><text transform="translate(339.61 371.8) scale(1.03 1)" font-size="43.8">D</text><text transform="translate(371.33 382.8) scale(1.03 1)" font-size="27.5">2</text><text transform="translate(385.03 371.8) scale(1.03 1)" font-size="43.8">/</text><text transform="translate(397.91 371.8) scale(1.03 1)" font-size="43.8">D</text><text transform="translate(428.52 382.8) scale(1.03 1)" font-size="27.5">1</text><text transform="translate(443.06 371.8) scale(1.03 1)" font-size="43.8">=</text><text transform="translate(466.83 371.8) scale(1.03 1)" font-size="43.8">4</text><text transform="translate(489.02 371.8) scale(1.03 1)" font-size="43.8">0</text><text transform="translate(339.61 433.5) scale(1.03 1)" font-size="43.8">D</text><text transform="translate(371.33 444.5) scale(1.03 1)" font-size="27.5">2</text><text transform="translate(385.03 433.5) scale(1.03 1)" font-size="43.8">/</text><text transform="translate(397.91 433.5) scale(1.03 1)" font-size="43.8">D</text><text transform="translate(428.52 444.5) scale(1.03 1)" font-size="27.5">1</text><text transform="translate(443.06 433.5) scale(1.03 1)" font-size="43.8">=</text><text transform="translate(466.72 433.5) scale(1.03 1)" font-size="43.8">8</text><text transform="translate(489.02 433.5) scale(1.03 1)" font-size="43.8">0</text></g>
<line x1="904.5" y1="20.3" x2="981.2" y2="20.3" stroke="#b02226" stroke-width="3"/>
<line x1="1128.2" y1="20.3" x2="1204.9" y2="20.3" stroke="#44d044" stroke-width="3"/>
<line x1="904.5" y1="69" x2="981.2" y2="69" stroke="#26268e" stroke-width="3"/>
<line x1="1128.2" y1="69" x2="1204.9" y2="69" stroke="#60d4d4" stroke-width="3"/>
<line x1="904.5" y1="117.7" x2="981.2" y2="117.7" stroke="#a632a8" stroke-width="3"/>
<g font-family="Liberation Serif" font-weight="bold" fill="#000"><text transform="translate(988.63 31.9) scale(1.03 1)" font-size="31.4">D</text><text transform="translate(1012.33 40.7) scale(1.03 1)" font-size="20.5">2</text><text transform="translate(1023.1 31.9) scale(1.03 1)" font-size="31.4">/</text><text transform="translate(1034.03 31.9) scale(1.03 1)" font-size="31.4">D</text><text transform="translate(1057.03 40.7) scale(1.03 1)" font-size="20.5">1</text><text transform="translate(1068.06 31.9) scale(1.03 1)" font-size="31.4">=</text><text transform="translate(1087.67 31.9) scale(1.03 1)" font-size="31.4">5</text><text transform="translate(1212.33 31.9) scale(1.03 1)" font-size="31.4">D</text><text transform="translate(1236.03 40.7) scale(1.03 1)" font-size="20.5">2</text><text transform="translate(1246.8 31.9) scale(1.03 1)" font-size="31.4">/</text><text transform="translate(1257.73 31.9) scale(1.03 1)" font-size="31.4">D</text><text transform="translate(1280.73 40.7) scale(1.03 1)" font-size="20.5">1</text><text transform="translate(1291.76 31.9) scale(1.03 1)" font-size="31.4">=</text><text transform="translate(1310.76 31.9) scale(1.03 1)" font-size="31.4">1</text><text transform="translate(1327.31 31.9) scale(1.03 1)" font-size="31.4">0</text><text transform="translate(988.63 80.6) scale(1.03 1)" font-size="31.4">D</text><text transform="translate(1012.33 89.4) scale(1.03 1)" font-size="20.5">2</text><text transform="translate(1023.1 80.6) scale(1.03 1)" font-size="31.4">/</text><text transform="translate(1034.03 80.6) scale(1.03 1)" font-size="31.4">D</text><text transform="translate(1057.03 89.4) scale(1.03 1)" font-size="20.5">1</text><text transform="translate(1068.06 80.6) scale(1.03 1)" font-size="31.4">=</text><text transform="translate(1087.53 80.6) scale(1.03 1)" font-size="31.4">2</text><text transform="translate(1103.61 80.6) scale(1.03 1)" font-size="31.4">0</text><text transform="translate(1212.33 80.6) scale(1.03 1)" font-size="31.4">D</text><text transform="translate(1236.03 89.4) scale(1.03 1)" font-size="20.5">2</text><text transform="translate(1246.8 80.6) scale(1.03 1)" font-size="31.4">/</text><text transform="translate(1257.73 80.6) scale(1.03 1)" font-size="31.4">D</text><text transform="translate(1280.73 89.4) scale(1.03 1)" font-size="20.5">1</text><text transform="translate(1291.76 80.6) scale(1.03 1)" font-size="31.4">=</text><text transform="translate(1311.3 80.6) scale(1.03 1)" font-size="31.4">4</text><text transform="translate(1327.31 80.6) scale(1.03 1)" font-size="31.4">0</text><text transform="translate(988.63 129.3) scale(1.03 1)" font-size="31.4">D</text><text transform="translate(1012.33 138.1) scale(1.03 1)" font-size="20.5">2</text><text transform="translate(1023.1 129.3) scale(1.03 1)" font-size="31.4">/</text><text transform="translate(1034.03 129.3) scale(1.03 1)" font-size="31.4">D</text><text transform="translate(1057.03 138.1) scale(1.03 1)" font-size="20.5">1</text><text transform="translate(1068.06 129.3) scale(1.03 1)" font-size="31.4">=</text><text transform="translate(1087.51 129.3) scale(1.03 1)" font-size="31.4">8</text><text transform="translate(1103.61 129.3) scale(1.03 1)" font-size="31.4">0</text></g>
<g font-family="Liberation Serif" font-weight="bold" font-size="43.5" fill="#000">
<text x="337.7" y="654">X (mm)</text>
<text x="1060.2" y="654">X (mm)</text>
<text transform="translate(42.2 363.3) rotate(-90)">Y (mm)</text>
<text transform="translate(763.5 362.5) rotate(-90)">Y (mm)</text>
</g>
<g font-family="Liberation Serif" font-size="50" fill="#000">
<text x="370.8" y="743.8">(a)</text>
<text x="1086" y="743.5">(b)</text>
</g>
</svg>
</body></html>
